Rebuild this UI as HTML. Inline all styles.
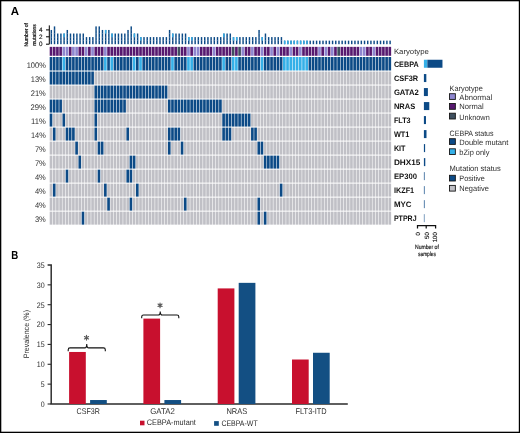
<!DOCTYPE html>
<html><head><meta charset="utf-8"><title>Figure</title>
<style>
html,body{margin:0;padding:0;background:#fff;}
body{width:520px;height:433px;overflow:hidden;position:relative;font-family:"Liberation Sans",sans-serif;}
svg{position:absolute;left:0;top:0;will-change:transform;}
svg text{font-family:"Liberation Sans",sans-serif;text-rendering:geometricPrecision;}
</style></head><body>
<svg width="520" height="433" viewBox="0 0 520 433">
<rect x="0" y="0" width="520" height="433" fill="#fff"/>
<text x="10.8" y="14.8" font-size="11.6" fill="#000" font-weight="bold" textLength="8.3" lengthAdjust="spacingAndGlyphs">A</text>
<rect x="50.6" y="29.96" width="1.45" height="14.24" fill="#0c4a86"/>
<rect x="50.6" y="40.46" width="1.45" height="0.4" fill="#7fa2c6"/>
<rect x="50.6" y="36.9" width="1.45" height="0.4" fill="#7fa2c6"/>
<rect x="50.6" y="33.34" width="1.45" height="0.4" fill="#7fa2c6"/>
<rect x="53.79" y="26.4" width="1.45" height="17.8" fill="#0c4a86"/>
<rect x="53.79" y="40.46" width="1.45" height="0.4" fill="#7fa2c6"/>
<rect x="53.79" y="36.9" width="1.45" height="0.4" fill="#7fa2c6"/>
<rect x="53.79" y="33.34" width="1.45" height="0.4" fill="#7fa2c6"/>
<rect x="53.79" y="29.78" width="1.45" height="0.4" fill="#7fa2c6"/>
<rect x="56.99" y="33.52" width="1.45" height="10.68" fill="#0c4a86"/>
<rect x="56.99" y="40.46" width="1.45" height="0.4" fill="#7fa2c6"/>
<rect x="56.99" y="36.9" width="1.45" height="0.4" fill="#7fa2c6"/>
<rect x="60.19" y="33.52" width="1.45" height="10.68" fill="#0c4a86"/>
<rect x="60.19" y="40.46" width="1.45" height="0.4" fill="#7fa2c6"/>
<rect x="60.19" y="36.9" width="1.45" height="0.4" fill="#7fa2c6"/>
<rect x="63.38" y="33.52" width="1.45" height="10.68" fill="#0c4a86"/>
<rect x="63.38" y="33.52" width="1.45" height="3.56" fill="#35b0e8"/>
<rect x="63.38" y="40.46" width="1.45" height="0.4" fill="#7fa2c6"/>
<rect x="63.38" y="36.9" width="1.45" height="0.4" fill="#7fa2c6"/>
<rect x="66.58" y="29.96" width="1.45" height="14.24" fill="#0c4a86"/>
<rect x="66.58" y="40.46" width="1.45" height="0.4" fill="#7fa2c6"/>
<rect x="66.58" y="36.9" width="1.45" height="0.4" fill="#7fa2c6"/>
<rect x="66.58" y="33.34" width="1.45" height="0.4" fill="#7fa2c6"/>
<rect x="69.77" y="33.52" width="1.45" height="10.68" fill="#0c4a86"/>
<rect x="69.77" y="40.46" width="1.45" height="0.4" fill="#7fa2c6"/>
<rect x="69.77" y="36.9" width="1.45" height="0.4" fill="#7fa2c6"/>
<rect x="72.97" y="33.52" width="1.45" height="10.68" fill="#0c4a86"/>
<rect x="72.97" y="40.46" width="1.45" height="0.4" fill="#7fa2c6"/>
<rect x="72.97" y="36.9" width="1.45" height="0.4" fill="#7fa2c6"/>
<rect x="76.17" y="33.52" width="1.45" height="10.68" fill="#0c4a86"/>
<rect x="76.17" y="40.46" width="1.45" height="0.4" fill="#7fa2c6"/>
<rect x="76.17" y="36.9" width="1.45" height="0.4" fill="#7fa2c6"/>
<rect x="79.36" y="33.52" width="1.45" height="10.68" fill="#0c4a86"/>
<rect x="79.36" y="40.46" width="1.45" height="0.4" fill="#7fa2c6"/>
<rect x="79.36" y="36.9" width="1.45" height="0.4" fill="#7fa2c6"/>
<rect x="82.56" y="33.52" width="1.45" height="10.68" fill="#0c4a86"/>
<rect x="82.56" y="40.46" width="1.45" height="0.4" fill="#7fa2c6"/>
<rect x="82.56" y="36.9" width="1.45" height="0.4" fill="#7fa2c6"/>
<rect x="85.75" y="37.08" width="1.45" height="7.12" fill="#0c4a86"/>
<rect x="85.75" y="40.46" width="1.45" height="0.4" fill="#7fa2c6"/>
<rect x="88.95" y="37.08" width="1.45" height="7.12" fill="#0c4a86"/>
<rect x="88.95" y="40.46" width="1.45" height="0.4" fill="#7fa2c6"/>
<rect x="92.15" y="37.08" width="1.45" height="7.12" fill="#0c4a86"/>
<rect x="92.15" y="40.46" width="1.45" height="0.4" fill="#7fa2c6"/>
<rect x="95.34" y="26.4" width="1.45" height="17.8" fill="#0c4a86"/>
<rect x="95.34" y="40.46" width="1.45" height="0.4" fill="#7fa2c6"/>
<rect x="95.34" y="36.9" width="1.45" height="0.4" fill="#7fa2c6"/>
<rect x="95.34" y="33.34" width="1.45" height="0.4" fill="#7fa2c6"/>
<rect x="95.34" y="29.78" width="1.45" height="0.4" fill="#7fa2c6"/>
<rect x="98.54" y="26.4" width="1.45" height="17.8" fill="#0c4a86"/>
<rect x="98.54" y="40.46" width="1.45" height="0.4" fill="#7fa2c6"/>
<rect x="98.54" y="36.9" width="1.45" height="0.4" fill="#7fa2c6"/>
<rect x="98.54" y="33.34" width="1.45" height="0.4" fill="#7fa2c6"/>
<rect x="98.54" y="29.78" width="1.45" height="0.4" fill="#7fa2c6"/>
<rect x="101.73" y="29.96" width="1.45" height="14.24" fill="#0c4a86"/>
<rect x="101.73" y="40.46" width="1.45" height="0.4" fill="#7fa2c6"/>
<rect x="101.73" y="36.9" width="1.45" height="0.4" fill="#7fa2c6"/>
<rect x="101.73" y="33.34" width="1.45" height="0.4" fill="#7fa2c6"/>
<rect x="104.93" y="29.96" width="1.45" height="14.24" fill="#0c4a86"/>
<rect x="104.93" y="29.96" width="1.45" height="3.56" fill="#35b0e8"/>
<rect x="104.93" y="40.46" width="1.45" height="0.4" fill="#7fa2c6"/>
<rect x="104.93" y="36.9" width="1.45" height="0.4" fill="#7fa2c6"/>
<rect x="104.93" y="33.34" width="1.45" height="0.4" fill="#7fa2c6"/>
<rect x="108.13" y="29.96" width="1.45" height="14.24" fill="#0c4a86"/>
<rect x="108.13" y="40.46" width="1.45" height="0.4" fill="#7fa2c6"/>
<rect x="108.13" y="36.9" width="1.45" height="0.4" fill="#7fa2c6"/>
<rect x="108.13" y="33.34" width="1.45" height="0.4" fill="#7fa2c6"/>
<rect x="111.32" y="33.52" width="1.45" height="10.68" fill="#0c4a86"/>
<rect x="111.32" y="33.52" width="1.45" height="3.56" fill="#35b0e8"/>
<rect x="111.32" y="40.46" width="1.45" height="0.4" fill="#7fa2c6"/>
<rect x="111.32" y="36.9" width="1.45" height="0.4" fill="#7fa2c6"/>
<rect x="114.52" y="33.52" width="1.45" height="10.68" fill="#0c4a86"/>
<rect x="114.52" y="40.46" width="1.45" height="0.4" fill="#7fa2c6"/>
<rect x="114.52" y="36.9" width="1.45" height="0.4" fill="#7fa2c6"/>
<rect x="117.71" y="33.52" width="1.45" height="10.68" fill="#0c4a86"/>
<rect x="117.71" y="40.46" width="1.45" height="0.4" fill="#7fa2c6"/>
<rect x="117.71" y="36.9" width="1.45" height="0.4" fill="#7fa2c6"/>
<rect x="120.91" y="33.52" width="1.45" height="10.68" fill="#0c4a86"/>
<rect x="120.91" y="40.46" width="1.45" height="0.4" fill="#7fa2c6"/>
<rect x="120.91" y="36.9" width="1.45" height="0.4" fill="#7fa2c6"/>
<rect x="124.11" y="33.52" width="1.45" height="10.68" fill="#0c4a86"/>
<rect x="124.11" y="40.46" width="1.45" height="0.4" fill="#7fa2c6"/>
<rect x="124.11" y="36.9" width="1.45" height="0.4" fill="#7fa2c6"/>
<rect x="127.3" y="29.96" width="1.45" height="14.24" fill="#0c4a86"/>
<rect x="127.3" y="40.46" width="1.45" height="0.4" fill="#7fa2c6"/>
<rect x="127.3" y="36.9" width="1.45" height="0.4" fill="#7fa2c6"/>
<rect x="127.3" y="33.34" width="1.45" height="0.4" fill="#7fa2c6"/>
<rect x="130.5" y="26.4" width="1.45" height="17.8" fill="#0c4a86"/>
<rect x="130.5" y="40.46" width="1.45" height="0.4" fill="#7fa2c6"/>
<rect x="130.5" y="36.9" width="1.45" height="0.4" fill="#7fa2c6"/>
<rect x="130.5" y="33.34" width="1.45" height="0.4" fill="#7fa2c6"/>
<rect x="130.5" y="29.78" width="1.45" height="0.4" fill="#7fa2c6"/>
<rect x="133.69" y="33.52" width="1.45" height="10.68" fill="#0c4a86"/>
<rect x="133.69" y="33.52" width="1.45" height="3.56" fill="#35b0e8"/>
<rect x="133.69" y="40.46" width="1.45" height="0.4" fill="#7fa2c6"/>
<rect x="133.69" y="36.9" width="1.45" height="0.4" fill="#7fa2c6"/>
<rect x="136.89" y="33.52" width="1.45" height="10.68" fill="#0c4a86"/>
<rect x="136.89" y="40.46" width="1.45" height="0.4" fill="#7fa2c6"/>
<rect x="136.89" y="36.9" width="1.45" height="0.4" fill="#7fa2c6"/>
<rect x="140.09" y="37.08" width="1.45" height="7.12" fill="#0c4a86"/>
<rect x="140.09" y="37.08" width="1.45" height="3.56" fill="#35b0e8"/>
<rect x="140.09" y="40.46" width="1.45" height="0.4" fill="#7fa2c6"/>
<rect x="143.28" y="37.08" width="1.45" height="7.12" fill="#0c4a86"/>
<rect x="143.28" y="40.46" width="1.45" height="0.4" fill="#7fa2c6"/>
<rect x="146.48" y="37.08" width="1.45" height="7.12" fill="#0c4a86"/>
<rect x="146.48" y="40.46" width="1.45" height="0.4" fill="#7fa2c6"/>
<rect x="149.67" y="37.08" width="1.45" height="7.12" fill="#0c4a86"/>
<rect x="149.67" y="40.46" width="1.45" height="0.4" fill="#7fa2c6"/>
<rect x="152.87" y="37.08" width="1.45" height="7.12" fill="#0c4a86"/>
<rect x="152.87" y="40.46" width="1.45" height="0.4" fill="#7fa2c6"/>
<rect x="156.07" y="37.08" width="1.45" height="7.12" fill="#0c4a86"/>
<rect x="156.07" y="40.46" width="1.45" height="0.4" fill="#7fa2c6"/>
<rect x="159.26" y="37.08" width="1.45" height="7.12" fill="#0c4a86"/>
<rect x="159.26" y="40.46" width="1.45" height="0.4" fill="#7fa2c6"/>
<rect x="162.46" y="37.08" width="1.45" height="7.12" fill="#0c4a86"/>
<rect x="162.46" y="40.46" width="1.45" height="0.4" fill="#7fa2c6"/>
<rect x="165.65" y="37.08" width="1.45" height="7.12" fill="#0c4a86"/>
<rect x="165.65" y="40.46" width="1.45" height="0.4" fill="#7fa2c6"/>
<rect x="168.85" y="29.96" width="1.45" height="14.24" fill="#0c4a86"/>
<rect x="168.85" y="40.46" width="1.45" height="0.4" fill="#7fa2c6"/>
<rect x="168.85" y="36.9" width="1.45" height="0.4" fill="#7fa2c6"/>
<rect x="168.85" y="33.34" width="1.45" height="0.4" fill="#7fa2c6"/>
<rect x="172.05" y="33.52" width="1.45" height="10.68" fill="#0c4a86"/>
<rect x="172.05" y="33.52" width="1.45" height="3.56" fill="#35b0e8"/>
<rect x="172.05" y="40.46" width="1.45" height="0.4" fill="#7fa2c6"/>
<rect x="172.05" y="36.9" width="1.45" height="0.4" fill="#7fa2c6"/>
<rect x="175.24" y="33.52" width="1.45" height="10.68" fill="#0c4a86"/>
<rect x="175.24" y="40.46" width="1.45" height="0.4" fill="#7fa2c6"/>
<rect x="175.24" y="36.9" width="1.45" height="0.4" fill="#7fa2c6"/>
<rect x="178.44" y="33.52" width="1.45" height="10.68" fill="#0c4a86"/>
<rect x="178.44" y="40.46" width="1.45" height="0.4" fill="#7fa2c6"/>
<rect x="178.44" y="36.9" width="1.45" height="0.4" fill="#7fa2c6"/>
<rect x="181.63" y="33.52" width="1.45" height="10.68" fill="#0c4a86"/>
<rect x="181.63" y="40.46" width="1.45" height="0.4" fill="#7fa2c6"/>
<rect x="181.63" y="36.9" width="1.45" height="0.4" fill="#7fa2c6"/>
<rect x="184.83" y="33.52" width="1.45" height="10.68" fill="#0c4a86"/>
<rect x="184.83" y="40.46" width="1.45" height="0.4" fill="#7fa2c6"/>
<rect x="184.83" y="36.9" width="1.45" height="0.4" fill="#7fa2c6"/>
<rect x="188.03" y="37.08" width="1.45" height="7.12" fill="#0c4a86"/>
<rect x="188.03" y="37.08" width="1.45" height="3.56" fill="#35b0e8"/>
<rect x="188.03" y="40.46" width="1.45" height="0.4" fill="#7fa2c6"/>
<rect x="191.22" y="37.08" width="1.45" height="7.12" fill="#0c4a86"/>
<rect x="191.22" y="37.08" width="1.45" height="3.56" fill="#35b0e8"/>
<rect x="191.22" y="40.46" width="1.45" height="0.4" fill="#7fa2c6"/>
<rect x="194.42" y="37.08" width="1.45" height="7.12" fill="#0c4a86"/>
<rect x="194.42" y="40.46" width="1.45" height="0.4" fill="#7fa2c6"/>
<rect x="197.61" y="37.08" width="1.45" height="7.12" fill="#0c4a86"/>
<rect x="197.61" y="40.46" width="1.45" height="0.4" fill="#7fa2c6"/>
<rect x="200.81" y="37.08" width="1.45" height="7.12" fill="#0c4a86"/>
<rect x="200.81" y="40.46" width="1.45" height="0.4" fill="#7fa2c6"/>
<rect x="204.01" y="37.08" width="1.45" height="7.12" fill="#0c4a86"/>
<rect x="204.01" y="40.46" width="1.45" height="0.4" fill="#7fa2c6"/>
<rect x="207.2" y="37.08" width="1.45" height="7.12" fill="#0c4a86"/>
<rect x="207.2" y="40.46" width="1.45" height="0.4" fill="#7fa2c6"/>
<rect x="210.4" y="37.08" width="1.45" height="7.12" fill="#0c4a86"/>
<rect x="210.4" y="40.46" width="1.45" height="0.4" fill="#7fa2c6"/>
<rect x="213.59" y="37.08" width="1.45" height="7.12" fill="#0c4a86"/>
<rect x="213.59" y="40.46" width="1.45" height="0.4" fill="#7fa2c6"/>
<rect x="216.79" y="37.08" width="1.45" height="7.12" fill="#0c4a86"/>
<rect x="216.79" y="40.46" width="1.45" height="0.4" fill="#7fa2c6"/>
<rect x="219.99" y="37.08" width="1.45" height="7.12" fill="#0c4a86"/>
<rect x="219.99" y="40.46" width="1.45" height="0.4" fill="#7fa2c6"/>
<rect x="223.18" y="33.52" width="1.45" height="10.68" fill="#0c4a86"/>
<rect x="223.18" y="33.52" width="1.45" height="3.56" fill="#35b0e8"/>
<rect x="223.18" y="40.46" width="1.45" height="0.4" fill="#7fa2c6"/>
<rect x="223.18" y="36.9" width="1.45" height="0.4" fill="#7fa2c6"/>
<rect x="226.38" y="33.52" width="1.45" height="10.68" fill="#0c4a86"/>
<rect x="226.38" y="40.46" width="1.45" height="0.4" fill="#7fa2c6"/>
<rect x="226.38" y="36.9" width="1.45" height="0.4" fill="#7fa2c6"/>
<rect x="229.57" y="33.52" width="1.45" height="10.68" fill="#0c4a86"/>
<rect x="229.57" y="40.46" width="1.45" height="0.4" fill="#7fa2c6"/>
<rect x="229.57" y="36.9" width="1.45" height="0.4" fill="#7fa2c6"/>
<rect x="232.77" y="37.08" width="1.45" height="7.12" fill="#0c4a86"/>
<rect x="232.77" y="37.08" width="1.45" height="3.56" fill="#35b0e8"/>
<rect x="232.77" y="40.46" width="1.45" height="0.4" fill="#7fa2c6"/>
<rect x="235.97" y="37.08" width="1.45" height="7.12" fill="#0c4a86"/>
<rect x="235.97" y="37.08" width="1.45" height="3.56" fill="#35b0e8"/>
<rect x="235.97" y="40.46" width="1.45" height="0.4" fill="#7fa2c6"/>
<rect x="239.16" y="37.08" width="1.45" height="7.12" fill="#0c4a86"/>
<rect x="239.16" y="40.46" width="1.45" height="0.4" fill="#7fa2c6"/>
<rect x="242.36" y="37.08" width="1.45" height="7.12" fill="#0c4a86"/>
<rect x="242.36" y="40.46" width="1.45" height="0.4" fill="#7fa2c6"/>
<rect x="245.55" y="37.08" width="1.45" height="7.12" fill="#0c4a86"/>
<rect x="245.55" y="40.46" width="1.45" height="0.4" fill="#7fa2c6"/>
<rect x="248.75" y="37.08" width="1.45" height="7.12" fill="#0c4a86"/>
<rect x="248.75" y="40.46" width="1.45" height="0.4" fill="#7fa2c6"/>
<rect x="251.95" y="37.08" width="1.45" height="7.12" fill="#0c4a86"/>
<rect x="251.95" y="40.46" width="1.45" height="0.4" fill="#7fa2c6"/>
<rect x="255.14" y="37.08" width="1.45" height="7.12" fill="#0c4a86"/>
<rect x="255.14" y="40.46" width="1.45" height="0.4" fill="#7fa2c6"/>
<rect x="258.34" y="29.96" width="1.45" height="14.24" fill="#0c4a86"/>
<rect x="258.34" y="40.46" width="1.45" height="0.4" fill="#7fa2c6"/>
<rect x="258.34" y="36.9" width="1.45" height="0.4" fill="#7fa2c6"/>
<rect x="258.34" y="33.34" width="1.45" height="0.4" fill="#7fa2c6"/>
<rect x="261.53" y="37.08" width="1.45" height="7.12" fill="#0c4a86"/>
<rect x="261.53" y="37.08" width="1.45" height="3.56" fill="#35b0e8"/>
<rect x="261.53" y="40.46" width="1.45" height="0.4" fill="#7fa2c6"/>
<rect x="264.73" y="33.52" width="1.45" height="10.68" fill="#0c4a86"/>
<rect x="264.73" y="40.46" width="1.45" height="0.4" fill="#7fa2c6"/>
<rect x="264.73" y="36.9" width="1.45" height="0.4" fill="#7fa2c6"/>
<rect x="267.93" y="37.08" width="1.45" height="7.12" fill="#0c4a86"/>
<rect x="267.93" y="40.46" width="1.45" height="0.4" fill="#7fa2c6"/>
<rect x="271.12" y="37.08" width="1.45" height="7.12" fill="#0c4a86"/>
<rect x="271.12" y="40.46" width="1.45" height="0.4" fill="#7fa2c6"/>
<rect x="274.32" y="37.08" width="1.45" height="7.12" fill="#0c4a86"/>
<rect x="274.32" y="40.46" width="1.45" height="0.4" fill="#7fa2c6"/>
<rect x="277.51" y="37.08" width="1.45" height="7.12" fill="#0c4a86"/>
<rect x="277.51" y="40.46" width="1.45" height="0.4" fill="#7fa2c6"/>
<rect x="280.71" y="37.08" width="1.45" height="7.12" fill="#0c4a86"/>
<rect x="280.71" y="40.46" width="1.45" height="0.4" fill="#7fa2c6"/>
<rect x="283.91" y="40.64" width="1.45" height="3.56" fill="#0c4a86"/>
<rect x="283.91" y="40.64" width="1.45" height="3.56" fill="#35b0e8"/>
<rect x="287.1" y="40.64" width="1.45" height="3.56" fill="#0c4a86"/>
<rect x="287.1" y="40.64" width="1.45" height="3.56" fill="#35b0e8"/>
<rect x="290.3" y="40.64" width="1.45" height="3.56" fill="#0c4a86"/>
<rect x="290.3" y="40.64" width="1.45" height="3.56" fill="#35b0e8"/>
<rect x="293.49" y="40.64" width="1.45" height="3.56" fill="#0c4a86"/>
<rect x="293.49" y="40.64" width="1.45" height="3.56" fill="#35b0e8"/>
<rect x="296.69" y="40.64" width="1.45" height="3.56" fill="#0c4a86"/>
<rect x="296.69" y="40.64" width="1.45" height="3.56" fill="#35b0e8"/>
<rect x="299.89" y="40.64" width="1.45" height="3.56" fill="#0c4a86"/>
<rect x="299.89" y="40.64" width="1.45" height="3.56" fill="#35b0e8"/>
<rect x="303.08" y="40.64" width="1.45" height="3.56" fill="#0c4a86"/>
<rect x="303.08" y="40.64" width="1.45" height="3.56" fill="#35b0e8"/>
<rect x="306.28" y="40.64" width="1.45" height="3.56" fill="#0c4a86"/>
<rect x="306.28" y="40.64" width="1.45" height="3.56" fill="#35b0e8"/>
<rect x="309.47" y="40.64" width="1.45" height="3.56" fill="#0c4a86"/>
<rect x="312.67" y="40.64" width="1.45" height="3.56" fill="#0c4a86"/>
<rect x="315.87" y="40.64" width="1.45" height="3.56" fill="#0c4a86"/>
<rect x="319.06" y="40.64" width="1.45" height="3.56" fill="#0c4a86"/>
<rect x="322.26" y="40.64" width="1.45" height="3.56" fill="#0c4a86"/>
<rect x="325.45" y="40.64" width="1.45" height="3.56" fill="#0c4a86"/>
<rect x="328.65" y="40.64" width="1.45" height="3.56" fill="#0c4a86"/>
<rect x="331.85" y="40.64" width="1.45" height="3.56" fill="#0c4a86"/>
<rect x="335.04" y="40.64" width="1.45" height="3.56" fill="#0c4a86"/>
<rect x="338.24" y="40.64" width="1.45" height="3.56" fill="#0c4a86"/>
<rect x="341.43" y="40.64" width="1.45" height="3.56" fill="#0c4a86"/>
<rect x="344.63" y="40.64" width="1.45" height="3.56" fill="#0c4a86"/>
<rect x="347.83" y="40.64" width="1.45" height="3.56" fill="#0c4a86"/>
<rect x="351.02" y="40.64" width="1.45" height="3.56" fill="#0c4a86"/>
<rect x="354.22" y="40.64" width="1.45" height="3.56" fill="#0c4a86"/>
<rect x="357.41" y="40.64" width="1.45" height="3.56" fill="#0c4a86"/>
<rect x="360.61" y="40.64" width="1.45" height="3.56" fill="#0c4a86"/>
<rect x="363.81" y="40.64" width="1.45" height="3.56" fill="#0c4a86"/>
<rect x="367" y="40.64" width="1.45" height="3.56" fill="#0c4a86"/>
<rect x="370.2" y="40.64" width="1.45" height="3.56" fill="#0c4a86"/>
<rect x="373.39" y="40.64" width="1.45" height="3.56" fill="#0c4a86"/>
<rect x="376.59" y="40.64" width="1.45" height="3.56" fill="#0c4a86"/>
<rect x="379.79" y="40.64" width="1.45" height="3.56" fill="#0c4a86"/>
<rect x="382.98" y="40.64" width="1.45" height="3.56" fill="#0c4a86"/>
<rect x="386.18" y="40.64" width="1.45" height="3.56" fill="#0c4a86"/>
<rect x="389.37" y="40.64" width="1.45" height="3.56" fill="#0c4a86"/>
<path d="M46.0 44.2H49.3V25.4M46.0 36.8H49.3M46.0 29.9H49.3" fill="none" stroke="#000" stroke-width="1.0"/>
<text x="40.65" y="31.9" font-size="6.3" fill="#111" stroke="#111" stroke-width="0.15" text-anchor="middle">4</text>
<text x="40.65" y="38.6" font-size="6.3" fill="#111" stroke="#111" stroke-width="0.15" text-anchor="middle">2</text>
<text x="40.65" y="45.7" font-size="6.3" fill="#111" stroke="#111" stroke-width="0.15" text-anchor="middle">0</text>
<text transform="translate(28.4 46.6) rotate(-90)" font-size="5.3" fill="#111" stroke="#111" stroke-width="0.22" textLength="23.6" lengthAdjust="spacingAndGlyphs">Number of</text>
<text transform="translate(35.8 45.8) rotate(-90)" font-size="5.3" fill="#111" stroke="#111" stroke-width="0.22" textLength="21.6" lengthAdjust="spacingAndGlyphs">mutations</text>
<rect x="49.7" y="46.85" width="2.65" height="8.95" fill="#57196f"/>
<rect x="52.9" y="46.85" width="2.65" height="8.95" fill="#57196f"/>
<rect x="56.09" y="46.85" width="2.65" height="8.95" fill="#57196f"/>
<rect x="59.29" y="46.85" width="2.65" height="8.95" fill="#57196f"/>
<rect x="62.48" y="46.85" width="2.65" height="8.95" fill="#8e86cf"/>
<rect x="65.68" y="46.85" width="2.65" height="8.95" fill="#8e86cf"/>
<rect x="68.88" y="46.85" width="2.65" height="8.95" fill="#57196f"/>
<rect x="72.07" y="46.85" width="2.65" height="8.95" fill="#8e86cf"/>
<rect x="75.27" y="46.85" width="2.65" height="8.95" fill="#8e86cf"/>
<rect x="78.46" y="46.85" width="2.65" height="8.95" fill="#57196f"/>
<rect x="81.66" y="46.85" width="2.65" height="8.95" fill="#57196f"/>
<rect x="84.86" y="46.85" width="2.65" height="8.95" fill="#8e86cf"/>
<rect x="88.05" y="46.85" width="2.65" height="8.95" fill="#57196f"/>
<rect x="91.25" y="46.85" width="2.65" height="8.95" fill="#8e86cf"/>
<rect x="94.44" y="46.85" width="2.65" height="8.95" fill="#57196f"/>
<rect x="97.64" y="46.85" width="2.65" height="8.95" fill="#57196f"/>
<rect x="100.84" y="46.85" width="2.65" height="8.95" fill="#57196f"/>
<rect x="104.03" y="46.85" width="2.65" height="8.95" fill="#8e86cf"/>
<rect x="107.23" y="46.85" width="2.65" height="8.95" fill="#57196f"/>
<rect x="110.42" y="46.85" width="2.65" height="8.95" fill="#57196f"/>
<rect x="113.62" y="46.85" width="2.65" height="8.95" fill="#57196f"/>
<rect x="116.82" y="46.85" width="2.65" height="8.95" fill="#57196f"/>
<rect x="120.01" y="46.85" width="2.65" height="8.95" fill="#57196f"/>
<rect x="123.21" y="46.85" width="2.65" height="8.95" fill="#57196f"/>
<rect x="126.4" y="46.85" width="2.65" height="8.95" fill="#57196f"/>
<rect x="129.6" y="46.85" width="2.65" height="8.95" fill="#57196f"/>
<rect x="132.8" y="46.85" width="2.65" height="8.95" fill="#57196f"/>
<rect x="135.99" y="46.85" width="2.65" height="8.95" fill="#57196f"/>
<rect x="139.19" y="46.85" width="2.65" height="8.95" fill="#57196f"/>
<rect x="142.38" y="46.85" width="2.65" height="8.95" fill="#57196f"/>
<rect x="145.58" y="46.85" width="2.65" height="8.95" fill="#57196f"/>
<rect x="148.78" y="46.85" width="2.65" height="8.95" fill="#57196f"/>
<rect x="151.97" y="46.85" width="2.65" height="8.95" fill="#57196f"/>
<rect x="155.17" y="46.85" width="2.65" height="8.95" fill="#57196f"/>
<rect x="158.36" y="46.85" width="2.65" height="8.95" fill="#57196f"/>
<rect x="161.56" y="46.85" width="2.65" height="8.95" fill="#57196f"/>
<rect x="164.76" y="46.85" width="2.65" height="8.95" fill="#57196f"/>
<rect x="167.95" y="46.85" width="2.65" height="8.95" fill="#57196f"/>
<rect x="171.15" y="46.85" width="2.65" height="8.95" fill="#57196f"/>
<rect x="174.34" y="46.85" width="2.65" height="8.95" fill="#57196f"/>
<rect x="177.54" y="46.85" width="2.65" height="8.95" fill="#3e4f5e"/>
<rect x="180.74" y="46.85" width="2.65" height="8.95" fill="#57196f"/>
<rect x="183.93" y="46.85" width="2.65" height="8.95" fill="#57196f"/>
<rect x="187.13" y="46.85" width="2.65" height="8.95" fill="#8e86cf"/>
<rect x="190.32" y="46.85" width="2.65" height="8.95" fill="#57196f"/>
<rect x="193.52" y="46.85" width="2.65" height="8.95" fill="#8e86cf"/>
<rect x="196.72" y="46.85" width="2.65" height="8.95" fill="#8e86cf"/>
<rect x="199.91" y="46.85" width="2.65" height="8.95" fill="#57196f"/>
<rect x="203.11" y="46.85" width="2.65" height="8.95" fill="#57196f"/>
<rect x="206.3" y="46.85" width="2.65" height="8.95" fill="#57196f"/>
<rect x="209.5" y="46.85" width="2.65" height="8.95" fill="#57196f"/>
<rect x="212.7" y="46.85" width="2.65" height="8.95" fill="#8e86cf"/>
<rect x="215.89" y="46.85" width="2.65" height="8.95" fill="#57196f"/>
<rect x="219.09" y="46.85" width="2.65" height="8.95" fill="#57196f"/>
<rect x="222.28" y="46.85" width="2.65" height="8.95" fill="#57196f"/>
<rect x="225.48" y="46.85" width="2.65" height="8.95" fill="#57196f"/>
<rect x="228.68" y="46.85" width="2.65" height="8.95" fill="#57196f"/>
<rect x="231.87" y="46.85" width="2.65" height="8.95" fill="#3e4f5e"/>
<rect x="235.07" y="46.85" width="2.65" height="8.95" fill="#57196f"/>
<rect x="238.26" y="46.85" width="2.65" height="8.95" fill="#3e4f5e"/>
<rect x="241.46" y="46.85" width="2.65" height="8.95" fill="#8e86cf"/>
<rect x="244.66" y="46.85" width="2.65" height="8.95" fill="#57196f"/>
<rect x="247.85" y="46.85" width="2.65" height="8.95" fill="#57196f"/>
<rect x="251.05" y="46.85" width="2.65" height="8.95" fill="#8e86cf"/>
<rect x="254.24" y="46.85" width="2.65" height="8.95" fill="#57196f"/>
<rect x="257.44" y="46.85" width="2.65" height="8.95" fill="#57196f"/>
<rect x="260.64" y="46.85" width="2.65" height="8.95" fill="#8e86cf"/>
<rect x="263.83" y="46.85" width="2.65" height="8.95" fill="#57196f"/>
<rect x="267.03" y="46.85" width="2.65" height="8.95" fill="#57196f"/>
<rect x="270.22" y="46.85" width="2.65" height="8.95" fill="#8e86cf"/>
<rect x="273.42" y="46.85" width="2.65" height="8.95" fill="#57196f"/>
<rect x="276.62" y="46.85" width="2.65" height="8.95" fill="#8e86cf"/>
<rect x="279.81" y="46.85" width="2.65" height="8.95" fill="#57196f"/>
<rect x="283.01" y="46.85" width="2.65" height="8.95" fill="#57196f"/>
<rect x="286.2" y="46.85" width="2.65" height="8.95" fill="#57196f"/>
<rect x="289.4" y="46.85" width="2.65" height="8.95" fill="#8e86cf"/>
<rect x="292.6" y="46.85" width="2.65" height="8.95" fill="#57196f"/>
<rect x="295.79" y="46.85" width="2.65" height="8.95" fill="#57196f"/>
<rect x="298.99" y="46.85" width="2.65" height="8.95" fill="#8e86cf"/>
<rect x="302.18" y="46.85" width="2.65" height="8.95" fill="#57196f"/>
<rect x="305.38" y="46.85" width="2.65" height="8.95" fill="#57196f"/>
<rect x="308.58" y="46.85" width="2.65" height="8.95" fill="#57196f"/>
<rect x="311.77" y="46.85" width="2.65" height="8.95" fill="#57196f"/>
<rect x="314.97" y="46.85" width="2.65" height="8.95" fill="#57196f"/>
<rect x="318.16" y="46.85" width="2.65" height="8.95" fill="#8e86cf"/>
<rect x="321.36" y="46.85" width="2.65" height="8.95" fill="#57196f"/>
<rect x="324.56" y="46.85" width="2.65" height="8.95" fill="#8e86cf"/>
<rect x="327.75" y="46.85" width="2.65" height="8.95" fill="#57196f"/>
<rect x="330.95" y="46.85" width="2.65" height="8.95" fill="#8e86cf"/>
<rect x="334.14" y="46.85" width="2.65" height="8.95" fill="#57196f"/>
<rect x="337.34" y="46.85" width="2.65" height="8.95" fill="#3e4f5e"/>
<rect x="340.54" y="46.85" width="2.65" height="8.95" fill="#57196f"/>
<rect x="343.73" y="46.85" width="2.65" height="8.95" fill="#57196f"/>
<rect x="346.93" y="46.85" width="2.65" height="8.95" fill="#57196f"/>
<rect x="350.12" y="46.85" width="2.65" height="8.95" fill="#57196f"/>
<rect x="353.32" y="46.85" width="2.65" height="8.95" fill="#57196f"/>
<rect x="356.52" y="46.85" width="2.65" height="8.95" fill="#57196f"/>
<rect x="359.71" y="46.85" width="2.65" height="8.95" fill="#8e86cf"/>
<rect x="362.91" y="46.85" width="2.65" height="8.95" fill="#8e86cf"/>
<rect x="366.1" y="46.85" width="2.65" height="8.95" fill="#57196f"/>
<rect x="369.3" y="46.85" width="2.65" height="8.95" fill="#57196f"/>
<rect x="372.5" y="46.85" width="2.65" height="8.95" fill="#8e86cf"/>
<rect x="375.69" y="46.85" width="2.65" height="8.95" fill="#57196f"/>
<rect x="378.89" y="46.85" width="2.65" height="8.95" fill="#57196f"/>
<rect x="382.08" y="46.85" width="2.65" height="8.95" fill="#57196f"/>
<rect x="385.28" y="46.85" width="2.65" height="8.95" fill="#57196f"/>
<rect x="388.48" y="46.85" width="2.65" height="8.95" fill="#57196f"/>
<text x="393.9" y="54.3" font-size="7.5" fill="#2e2e2e" textLength="35" lengthAdjust="spacingAndGlyphs">Karyotype</text>
<rect x="49.7" y="57" width="2.65" height="13.5" fill="#0c4a86"/>
<rect x="52.9" y="57" width="2.65" height="13.5" fill="#0c4a86"/>
<rect x="56.09" y="57" width="2.65" height="13.5" fill="#0c4a86"/>
<rect x="59.29" y="57" width="2.65" height="13.5" fill="#0c4a86"/>
<rect x="62.48" y="57" width="2.65" height="13.5" fill="#35b0e8"/>
<rect x="65.68" y="57" width="2.65" height="13.5" fill="#0c4a86"/>
<rect x="68.88" y="57" width="2.65" height="13.5" fill="#0c4a86"/>
<rect x="72.07" y="57" width="2.65" height="13.5" fill="#0c4a86"/>
<rect x="75.27" y="57" width="2.65" height="13.5" fill="#0c4a86"/>
<rect x="78.46" y="57" width="2.65" height="13.5" fill="#0c4a86"/>
<rect x="81.66" y="57" width="2.65" height="13.5" fill="#0c4a86"/>
<rect x="84.86" y="57" width="2.65" height="13.5" fill="#0c4a86"/>
<rect x="88.05" y="57" width="2.65" height="13.5" fill="#0c4a86"/>
<rect x="91.25" y="57" width="2.65" height="13.5" fill="#0c4a86"/>
<rect x="94.44" y="57" width="2.65" height="13.5" fill="#0c4a86"/>
<rect x="97.64" y="57" width="2.65" height="13.5" fill="#0c4a86"/>
<rect x="100.84" y="57" width="2.65" height="13.5" fill="#0c4a86"/>
<rect x="104.03" y="57" width="2.65" height="13.5" fill="#35b0e8"/>
<rect x="107.23" y="57" width="2.65" height="13.5" fill="#0c4a86"/>
<rect x="110.42" y="57" width="2.65" height="13.5" fill="#35b0e8"/>
<rect x="113.62" y="57" width="2.65" height="13.5" fill="#0c4a86"/>
<rect x="116.82" y="57" width="2.65" height="13.5" fill="#0c4a86"/>
<rect x="120.01" y="57" width="2.65" height="13.5" fill="#0c4a86"/>
<rect x="123.21" y="57" width="2.65" height="13.5" fill="#0c4a86"/>
<rect x="126.4" y="57" width="2.65" height="13.5" fill="#0c4a86"/>
<rect x="129.6" y="57" width="2.65" height="13.5" fill="#0c4a86"/>
<rect x="132.8" y="57" width="2.65" height="13.5" fill="#35b0e8"/>
<rect x="135.99" y="57" width="2.65" height="13.5" fill="#0c4a86"/>
<rect x="139.19" y="57" width="2.65" height="13.5" fill="#35b0e8"/>
<rect x="142.38" y="57" width="2.65" height="13.5" fill="#0c4a86"/>
<rect x="145.58" y="57" width="2.65" height="13.5" fill="#0c4a86"/>
<rect x="148.78" y="57" width="2.65" height="13.5" fill="#0c4a86"/>
<rect x="151.97" y="57" width="2.65" height="13.5" fill="#0c4a86"/>
<rect x="155.17" y="57" width="2.65" height="13.5" fill="#0c4a86"/>
<rect x="158.36" y="57" width="2.65" height="13.5" fill="#0c4a86"/>
<rect x="161.56" y="57" width="2.65" height="13.5" fill="#0c4a86"/>
<rect x="164.76" y="57" width="2.65" height="13.5" fill="#0c4a86"/>
<rect x="167.95" y="57" width="2.65" height="13.5" fill="#0c4a86"/>
<rect x="171.15" y="57" width="2.65" height="13.5" fill="#35b0e8"/>
<rect x="174.34" y="57" width="2.65" height="13.5" fill="#0c4a86"/>
<rect x="177.54" y="57" width="2.65" height="13.5" fill="#0c4a86"/>
<rect x="180.74" y="57" width="2.65" height="13.5" fill="#0c4a86"/>
<rect x="183.93" y="57" width="2.65" height="13.5" fill="#0c4a86"/>
<rect x="187.13" y="57" width="2.65" height="13.5" fill="#35b0e8"/>
<rect x="190.32" y="57" width="2.65" height="13.5" fill="#35b0e8"/>
<rect x="193.52" y="57" width="2.65" height="13.5" fill="#0c4a86"/>
<rect x="196.72" y="57" width="2.65" height="13.5" fill="#0c4a86"/>
<rect x="199.91" y="57" width="2.65" height="13.5" fill="#0c4a86"/>
<rect x="203.11" y="57" width="2.65" height="13.5" fill="#0c4a86"/>
<rect x="206.3" y="57" width="2.65" height="13.5" fill="#0c4a86"/>
<rect x="209.5" y="57" width="2.65" height="13.5" fill="#0c4a86"/>
<rect x="212.7" y="57" width="2.65" height="13.5" fill="#0c4a86"/>
<rect x="215.89" y="57" width="2.65" height="13.5" fill="#0c4a86"/>
<rect x="219.09" y="57" width="2.65" height="13.5" fill="#0c4a86"/>
<rect x="222.28" y="57" width="2.65" height="13.5" fill="#35b0e8"/>
<rect x="225.48" y="57" width="2.65" height="13.5" fill="#0c4a86"/>
<rect x="228.68" y="57" width="2.65" height="13.5" fill="#0c4a86"/>
<rect x="231.87" y="57" width="2.65" height="13.5" fill="#35b0e8"/>
<rect x="235.07" y="57" width="2.65" height="13.5" fill="#35b0e8"/>
<rect x="238.26" y="57" width="2.65" height="13.5" fill="#0c4a86"/>
<rect x="241.46" y="57" width="2.65" height="13.5" fill="#0c4a86"/>
<rect x="244.66" y="57" width="2.65" height="13.5" fill="#0c4a86"/>
<rect x="247.85" y="57" width="2.65" height="13.5" fill="#0c4a86"/>
<rect x="251.05" y="57" width="2.65" height="13.5" fill="#0c4a86"/>
<rect x="254.24" y="57" width="2.65" height="13.5" fill="#0c4a86"/>
<rect x="257.44" y="57" width="2.65" height="13.5" fill="#0c4a86"/>
<rect x="260.64" y="57" width="2.65" height="13.5" fill="#35b0e8"/>
<rect x="263.83" y="57" width="2.65" height="13.5" fill="#0c4a86"/>
<rect x="267.03" y="57" width="2.65" height="13.5" fill="#0c4a86"/>
<rect x="270.22" y="57" width="2.65" height="13.5" fill="#0c4a86"/>
<rect x="273.42" y="57" width="2.65" height="13.5" fill="#0c4a86"/>
<rect x="276.62" y="57" width="2.65" height="13.5" fill="#0c4a86"/>
<rect x="279.81" y="57" width="2.65" height="13.5" fill="#0c4a86"/>
<rect x="283.01" y="57" width="2.65" height="13.5" fill="#35b0e8"/>
<rect x="286.2" y="57" width="2.65" height="13.5" fill="#35b0e8"/>
<rect x="289.4" y="57" width="2.65" height="13.5" fill="#35b0e8"/>
<rect x="292.6" y="57" width="2.65" height="13.5" fill="#35b0e8"/>
<rect x="295.79" y="57" width="2.65" height="13.5" fill="#35b0e8"/>
<rect x="298.99" y="57" width="2.65" height="13.5" fill="#35b0e8"/>
<rect x="302.18" y="57" width="2.65" height="13.5" fill="#35b0e8"/>
<rect x="305.38" y="57" width="2.65" height="13.5" fill="#35b0e8"/>
<rect x="308.58" y="57" width="2.65" height="13.5" fill="#0c4a86"/>
<rect x="311.77" y="57" width="2.65" height="13.5" fill="#0c4a86"/>
<rect x="314.97" y="57" width="2.65" height="13.5" fill="#0c4a86"/>
<rect x="318.16" y="57" width="2.65" height="13.5" fill="#0c4a86"/>
<rect x="321.36" y="57" width="2.65" height="13.5" fill="#0c4a86"/>
<rect x="324.56" y="57" width="2.65" height="13.5" fill="#0c4a86"/>
<rect x="327.75" y="57" width="2.65" height="13.5" fill="#0c4a86"/>
<rect x="330.95" y="57" width="2.65" height="13.5" fill="#0c4a86"/>
<rect x="334.14" y="57" width="2.65" height="13.5" fill="#0c4a86"/>
<rect x="337.34" y="57" width="2.65" height="13.5" fill="#0c4a86"/>
<rect x="340.54" y="57" width="2.65" height="13.5" fill="#0c4a86"/>
<rect x="343.73" y="57" width="2.65" height="13.5" fill="#0c4a86"/>
<rect x="346.93" y="57" width="2.65" height="13.5" fill="#0c4a86"/>
<rect x="350.12" y="57" width="2.65" height="13.5" fill="#0c4a86"/>
<rect x="353.32" y="57" width="2.65" height="13.5" fill="#0c4a86"/>
<rect x="356.52" y="57" width="2.65" height="13.5" fill="#0c4a86"/>
<rect x="359.71" y="57" width="2.65" height="13.5" fill="#0c4a86"/>
<rect x="362.91" y="57" width="2.65" height="13.5" fill="#0c4a86"/>
<rect x="366.1" y="57" width="2.65" height="13.5" fill="#0c4a86"/>
<rect x="369.3" y="57" width="2.65" height="13.5" fill="#0c4a86"/>
<rect x="372.5" y="57" width="2.65" height="13.5" fill="#0c4a86"/>
<rect x="375.69" y="57" width="2.65" height="13.5" fill="#0c4a86"/>
<rect x="378.89" y="57" width="2.65" height="13.5" fill="#0c4a86"/>
<rect x="382.08" y="57" width="2.65" height="13.5" fill="#0c4a86"/>
<rect x="385.28" y="57" width="2.65" height="13.5" fill="#0c4a86"/>
<rect x="388.48" y="57" width="2.65" height="13.5" fill="#0c4a86"/>
<text x="26.7" y="67.9" font-size="8.1" fill="#2e2e2e" textLength="19.1" lengthAdjust="spacingAndGlyphs">100%</text>
<text x="393.9" y="66.7" font-size="7.9" fill="#111" font-weight="bold" textLength="24.8" lengthAdjust="spacingAndGlyphs">CEBPA</text>
<rect x="423.9" y="59.75" width="3.47" height="8.0" fill="#35b0e8"/>
<rect x="427.37" y="59.75" width="15.09" height="8.0" fill="#0c4a86"/>
<rect x="49.7" y="71.55" width="2.65" height="13.0" fill="#0c4a86"/>
<rect x="52.9" y="71.55" width="2.65" height="13.0" fill="#0c4a86"/>
<rect x="56.09" y="71.55" width="2.65" height="13.0" fill="#0c4a86"/>
<rect x="59.29" y="71.55" width="2.65" height="13.0" fill="#0c4a86"/>
<rect x="62.48" y="71.55" width="2.65" height="13.0" fill="#0c4a86"/>
<rect x="65.68" y="71.55" width="2.65" height="13.0" fill="#0c4a86"/>
<rect x="68.88" y="71.55" width="2.65" height="13.0" fill="#0c4a86"/>
<rect x="72.07" y="71.55" width="2.65" height="13.0" fill="#0c4a86"/>
<rect x="75.27" y="71.55" width="2.65" height="13.0" fill="#0c4a86"/>
<rect x="78.46" y="71.55" width="2.65" height="13.0" fill="#0c4a86"/>
<rect x="81.66" y="71.55" width="2.65" height="13.0" fill="#0c4a86"/>
<rect x="84.86" y="71.55" width="2.65" height="13.0" fill="#0c4a86"/>
<rect x="88.05" y="71.55" width="2.65" height="13.0" fill="#0c4a86"/>
<rect x="91.25" y="71.55" width="2.65" height="13.0" fill="#0c4a86"/>
<rect x="94.44" y="71.55" width="2.65" height="13.0" fill="#c0c0c6"/>
<rect x="97.64" y="71.55" width="2.65" height="13.0" fill="#c0c0c6"/>
<rect x="100.84" y="71.55" width="2.65" height="13.0" fill="#c0c0c6"/>
<rect x="104.03" y="71.55" width="2.65" height="13.0" fill="#c0c0c6"/>
<rect x="107.23" y="71.55" width="2.65" height="13.0" fill="#c0c0c6"/>
<rect x="110.42" y="71.55" width="2.65" height="13.0" fill="#c0c0c6"/>
<rect x="113.62" y="71.55" width="2.65" height="13.0" fill="#c0c0c6"/>
<rect x="116.82" y="71.55" width="2.65" height="13.0" fill="#c0c0c6"/>
<rect x="120.01" y="71.55" width="2.65" height="13.0" fill="#c0c0c6"/>
<rect x="123.21" y="71.55" width="2.65" height="13.0" fill="#c0c0c6"/>
<rect x="126.4" y="71.55" width="2.65" height="13.0" fill="#c0c0c6"/>
<rect x="129.6" y="71.55" width="2.65" height="13.0" fill="#c0c0c6"/>
<rect x="132.8" y="71.55" width="2.65" height="13.0" fill="#c0c0c6"/>
<rect x="135.99" y="71.55" width="2.65" height="13.0" fill="#c0c0c6"/>
<rect x="139.19" y="71.55" width="2.65" height="13.0" fill="#c0c0c6"/>
<rect x="142.38" y="71.55" width="2.65" height="13.0" fill="#c0c0c6"/>
<rect x="145.58" y="71.55" width="2.65" height="13.0" fill="#c0c0c6"/>
<rect x="148.78" y="71.55" width="2.65" height="13.0" fill="#c0c0c6"/>
<rect x="151.97" y="71.55" width="2.65" height="13.0" fill="#c0c0c6"/>
<rect x="155.17" y="71.55" width="2.65" height="13.0" fill="#c0c0c6"/>
<rect x="158.36" y="71.55" width="2.65" height="13.0" fill="#c0c0c6"/>
<rect x="161.56" y="71.55" width="2.65" height="13.0" fill="#c0c0c6"/>
<rect x="164.76" y="71.55" width="2.65" height="13.0" fill="#c0c0c6"/>
<rect x="167.95" y="71.55" width="2.65" height="13.0" fill="#c0c0c6"/>
<rect x="171.15" y="71.55" width="2.65" height="13.0" fill="#c0c0c6"/>
<rect x="174.34" y="71.55" width="2.65" height="13.0" fill="#c0c0c6"/>
<rect x="177.54" y="71.55" width="2.65" height="13.0" fill="#c0c0c6"/>
<rect x="180.74" y="71.55" width="2.65" height="13.0" fill="#c0c0c6"/>
<rect x="183.93" y="71.55" width="2.65" height="13.0" fill="#c0c0c6"/>
<rect x="187.13" y="71.55" width="2.65" height="13.0" fill="#c0c0c6"/>
<rect x="190.32" y="71.55" width="2.65" height="13.0" fill="#c0c0c6"/>
<rect x="193.52" y="71.55" width="2.65" height="13.0" fill="#c0c0c6"/>
<rect x="196.72" y="71.55" width="2.65" height="13.0" fill="#c0c0c6"/>
<rect x="199.91" y="71.55" width="2.65" height="13.0" fill="#c0c0c6"/>
<rect x="203.11" y="71.55" width="2.65" height="13.0" fill="#c0c0c6"/>
<rect x="206.3" y="71.55" width="2.65" height="13.0" fill="#c0c0c6"/>
<rect x="209.5" y="71.55" width="2.65" height="13.0" fill="#c0c0c6"/>
<rect x="212.7" y="71.55" width="2.65" height="13.0" fill="#c0c0c6"/>
<rect x="215.89" y="71.55" width="2.65" height="13.0" fill="#c0c0c6"/>
<rect x="219.09" y="71.55" width="2.65" height="13.0" fill="#c0c0c6"/>
<rect x="222.28" y="71.55" width="2.65" height="13.0" fill="#c0c0c6"/>
<rect x="225.48" y="71.55" width="2.65" height="13.0" fill="#c0c0c6"/>
<rect x="228.68" y="71.55" width="2.65" height="13.0" fill="#c0c0c6"/>
<rect x="231.87" y="71.55" width="2.65" height="13.0" fill="#c0c0c6"/>
<rect x="235.07" y="71.55" width="2.65" height="13.0" fill="#c0c0c6"/>
<rect x="238.26" y="71.55" width="2.65" height="13.0" fill="#c0c0c6"/>
<rect x="241.46" y="71.55" width="2.65" height="13.0" fill="#c0c0c6"/>
<rect x="244.66" y="71.55" width="2.65" height="13.0" fill="#c0c0c6"/>
<rect x="247.85" y="71.55" width="2.65" height="13.0" fill="#c0c0c6"/>
<rect x="251.05" y="71.55" width="2.65" height="13.0" fill="#c0c0c6"/>
<rect x="254.24" y="71.55" width="2.65" height="13.0" fill="#c0c0c6"/>
<rect x="257.44" y="71.55" width="2.65" height="13.0" fill="#c0c0c6"/>
<rect x="260.64" y="71.55" width="2.65" height="13.0" fill="#c0c0c6"/>
<rect x="263.83" y="71.55" width="2.65" height="13.0" fill="#c0c0c6"/>
<rect x="267.03" y="71.55" width="2.65" height="13.0" fill="#c0c0c6"/>
<rect x="270.22" y="71.55" width="2.65" height="13.0" fill="#c0c0c6"/>
<rect x="273.42" y="71.55" width="2.65" height="13.0" fill="#c0c0c6"/>
<rect x="276.62" y="71.55" width="2.65" height="13.0" fill="#c0c0c6"/>
<rect x="279.81" y="71.55" width="2.65" height="13.0" fill="#c0c0c6"/>
<rect x="283.01" y="71.55" width="2.65" height="13.0" fill="#c0c0c6"/>
<rect x="286.2" y="71.55" width="2.65" height="13.0" fill="#c0c0c6"/>
<rect x="289.4" y="71.55" width="2.65" height="13.0" fill="#c0c0c6"/>
<rect x="292.6" y="71.55" width="2.65" height="13.0" fill="#c0c0c6"/>
<rect x="295.79" y="71.55" width="2.65" height="13.0" fill="#c0c0c6"/>
<rect x="298.99" y="71.55" width="2.65" height="13.0" fill="#c0c0c6"/>
<rect x="302.18" y="71.55" width="2.65" height="13.0" fill="#c0c0c6"/>
<rect x="305.38" y="71.55" width="2.65" height="13.0" fill="#c0c0c6"/>
<rect x="308.58" y="71.55" width="2.65" height="13.0" fill="#c0c0c6"/>
<rect x="311.77" y="71.55" width="2.65" height="13.0" fill="#c0c0c6"/>
<rect x="314.97" y="71.55" width="2.65" height="13.0" fill="#c0c0c6"/>
<rect x="318.16" y="71.55" width="2.65" height="13.0" fill="#c0c0c6"/>
<rect x="321.36" y="71.55" width="2.65" height="13.0" fill="#c0c0c6"/>
<rect x="324.56" y="71.55" width="2.65" height="13.0" fill="#c0c0c6"/>
<rect x="327.75" y="71.55" width="2.65" height="13.0" fill="#c0c0c6"/>
<rect x="330.95" y="71.55" width="2.65" height="13.0" fill="#c0c0c6"/>
<rect x="334.14" y="71.55" width="2.65" height="13.0" fill="#c0c0c6"/>
<rect x="337.34" y="71.55" width="2.65" height="13.0" fill="#c0c0c6"/>
<rect x="340.54" y="71.55" width="2.65" height="13.0" fill="#c0c0c6"/>
<rect x="343.73" y="71.55" width="2.65" height="13.0" fill="#c0c0c6"/>
<rect x="346.93" y="71.55" width="2.65" height="13.0" fill="#c0c0c6"/>
<rect x="350.12" y="71.55" width="2.65" height="13.0" fill="#c0c0c6"/>
<rect x="353.32" y="71.55" width="2.65" height="13.0" fill="#c0c0c6"/>
<rect x="356.52" y="71.55" width="2.65" height="13.0" fill="#c0c0c6"/>
<rect x="359.71" y="71.55" width="2.65" height="13.0" fill="#c0c0c6"/>
<rect x="362.91" y="71.55" width="2.65" height="13.0" fill="#c0c0c6"/>
<rect x="366.1" y="71.55" width="2.65" height="13.0" fill="#c0c0c6"/>
<rect x="369.3" y="71.55" width="2.65" height="13.0" fill="#c0c0c6"/>
<rect x="372.5" y="71.55" width="2.65" height="13.0" fill="#c0c0c6"/>
<rect x="375.69" y="71.55" width="2.65" height="13.0" fill="#c0c0c6"/>
<rect x="378.89" y="71.55" width="2.65" height="13.0" fill="#c0c0c6"/>
<rect x="382.08" y="71.55" width="2.65" height="13.0" fill="#c0c0c6"/>
<rect x="385.28" y="71.55" width="2.65" height="13.0" fill="#c0c0c6"/>
<rect x="388.48" y="71.55" width="2.65" height="13.0" fill="#c0c0c6"/>
<text x="30.7" y="82.2" font-size="8.1" fill="#2e2e2e" textLength="15.1" lengthAdjust="spacingAndGlyphs">13%</text>
<text x="393.9" y="81" font-size="7.9" fill="#111" font-weight="bold" textLength="24.2" lengthAdjust="spacingAndGlyphs">CSF3R</text>
<rect x="423.9" y="74.05" width="2.43" height="8.0" fill="#0c4a86"/>
<rect x="49.7" y="85.56" width="2.65" height="13.0" fill="#c0c0c6"/>
<rect x="52.9" y="85.56" width="2.65" height="13.0" fill="#c0c0c6"/>
<rect x="56.09" y="85.56" width="2.65" height="13.0" fill="#c0c0c6"/>
<rect x="59.29" y="85.56" width="2.65" height="13.0" fill="#c0c0c6"/>
<rect x="62.48" y="85.56" width="2.65" height="13.0" fill="#c0c0c6"/>
<rect x="65.68" y="85.56" width="2.65" height="13.0" fill="#c0c0c6"/>
<rect x="68.88" y="85.56" width="2.65" height="13.0" fill="#c0c0c6"/>
<rect x="72.07" y="85.56" width="2.65" height="13.0" fill="#c0c0c6"/>
<rect x="75.27" y="85.56" width="2.65" height="13.0" fill="#c0c0c6"/>
<rect x="78.46" y="85.56" width="2.65" height="13.0" fill="#c0c0c6"/>
<rect x="81.66" y="85.56" width="2.65" height="13.0" fill="#c0c0c6"/>
<rect x="84.86" y="85.56" width="2.65" height="13.0" fill="#c0c0c6"/>
<rect x="88.05" y="85.56" width="2.65" height="13.0" fill="#c0c0c6"/>
<rect x="91.25" y="85.56" width="2.65" height="13.0" fill="#c0c0c6"/>
<rect x="94.44" y="85.56" width="2.65" height="13.0" fill="#0c4a86"/>
<rect x="97.64" y="85.56" width="2.65" height="13.0" fill="#0c4a86"/>
<rect x="100.84" y="85.56" width="2.65" height="13.0" fill="#0c4a86"/>
<rect x="104.03" y="85.56" width="2.65" height="13.0" fill="#0c4a86"/>
<rect x="107.23" y="85.56" width="2.65" height="13.0" fill="#0c4a86"/>
<rect x="110.42" y="85.56" width="2.65" height="13.0" fill="#0c4a86"/>
<rect x="113.62" y="85.56" width="2.65" height="13.0" fill="#0c4a86"/>
<rect x="116.82" y="85.56" width="2.65" height="13.0" fill="#0c4a86"/>
<rect x="120.01" y="85.56" width="2.65" height="13.0" fill="#0c4a86"/>
<rect x="123.21" y="85.56" width="2.65" height="13.0" fill="#0c4a86"/>
<rect x="126.4" y="85.56" width="2.65" height="13.0" fill="#0c4a86"/>
<rect x="129.6" y="85.56" width="2.65" height="13.0" fill="#0c4a86"/>
<rect x="132.8" y="85.56" width="2.65" height="13.0" fill="#0c4a86"/>
<rect x="135.99" y="85.56" width="2.65" height="13.0" fill="#0c4a86"/>
<rect x="139.19" y="85.56" width="2.65" height="13.0" fill="#0c4a86"/>
<rect x="142.38" y="85.56" width="2.65" height="13.0" fill="#0c4a86"/>
<rect x="145.58" y="85.56" width="2.65" height="13.0" fill="#0c4a86"/>
<rect x="148.78" y="85.56" width="2.65" height="13.0" fill="#0c4a86"/>
<rect x="151.97" y="85.56" width="2.65" height="13.0" fill="#0c4a86"/>
<rect x="155.17" y="85.56" width="2.65" height="13.0" fill="#0c4a86"/>
<rect x="158.36" y="85.56" width="2.65" height="13.0" fill="#0c4a86"/>
<rect x="161.56" y="85.56" width="2.65" height="13.0" fill="#0c4a86"/>
<rect x="164.76" y="85.56" width="2.65" height="13.0" fill="#0c4a86"/>
<rect x="167.95" y="85.56" width="2.65" height="13.0" fill="#c0c0c6"/>
<rect x="171.15" y="85.56" width="2.65" height="13.0" fill="#c0c0c6"/>
<rect x="174.34" y="85.56" width="2.65" height="13.0" fill="#c0c0c6"/>
<rect x="177.54" y="85.56" width="2.65" height="13.0" fill="#c0c0c6"/>
<rect x="180.74" y="85.56" width="2.65" height="13.0" fill="#c0c0c6"/>
<rect x="183.93" y="85.56" width="2.65" height="13.0" fill="#c0c0c6"/>
<rect x="187.13" y="85.56" width="2.65" height="13.0" fill="#c0c0c6"/>
<rect x="190.32" y="85.56" width="2.65" height="13.0" fill="#c0c0c6"/>
<rect x="193.52" y="85.56" width="2.65" height="13.0" fill="#c0c0c6"/>
<rect x="196.72" y="85.56" width="2.65" height="13.0" fill="#c0c0c6"/>
<rect x="199.91" y="85.56" width="2.65" height="13.0" fill="#c0c0c6"/>
<rect x="203.11" y="85.56" width="2.65" height="13.0" fill="#c0c0c6"/>
<rect x="206.3" y="85.56" width="2.65" height="13.0" fill="#c0c0c6"/>
<rect x="209.5" y="85.56" width="2.65" height="13.0" fill="#c0c0c6"/>
<rect x="212.7" y="85.56" width="2.65" height="13.0" fill="#c0c0c6"/>
<rect x="215.89" y="85.56" width="2.65" height="13.0" fill="#c0c0c6"/>
<rect x="219.09" y="85.56" width="2.65" height="13.0" fill="#c0c0c6"/>
<rect x="222.28" y="85.56" width="2.65" height="13.0" fill="#c0c0c6"/>
<rect x="225.48" y="85.56" width="2.65" height="13.0" fill="#c0c0c6"/>
<rect x="228.68" y="85.56" width="2.65" height="13.0" fill="#c0c0c6"/>
<rect x="231.87" y="85.56" width="2.65" height="13.0" fill="#c0c0c6"/>
<rect x="235.07" y="85.56" width="2.65" height="13.0" fill="#c0c0c6"/>
<rect x="238.26" y="85.56" width="2.65" height="13.0" fill="#c0c0c6"/>
<rect x="241.46" y="85.56" width="2.65" height="13.0" fill="#c0c0c6"/>
<rect x="244.66" y="85.56" width="2.65" height="13.0" fill="#c0c0c6"/>
<rect x="247.85" y="85.56" width="2.65" height="13.0" fill="#c0c0c6"/>
<rect x="251.05" y="85.56" width="2.65" height="13.0" fill="#c0c0c6"/>
<rect x="254.24" y="85.56" width="2.65" height="13.0" fill="#c0c0c6"/>
<rect x="257.44" y="85.56" width="2.65" height="13.0" fill="#c0c0c6"/>
<rect x="260.64" y="85.56" width="2.65" height="13.0" fill="#c0c0c6"/>
<rect x="263.83" y="85.56" width="2.65" height="13.0" fill="#c0c0c6"/>
<rect x="267.03" y="85.56" width="2.65" height="13.0" fill="#c0c0c6"/>
<rect x="270.22" y="85.56" width="2.65" height="13.0" fill="#c0c0c6"/>
<rect x="273.42" y="85.56" width="2.65" height="13.0" fill="#c0c0c6"/>
<rect x="276.62" y="85.56" width="2.65" height="13.0" fill="#c0c0c6"/>
<rect x="279.81" y="85.56" width="2.65" height="13.0" fill="#c0c0c6"/>
<rect x="283.01" y="85.56" width="2.65" height="13.0" fill="#c0c0c6"/>
<rect x="286.2" y="85.56" width="2.65" height="13.0" fill="#c0c0c6"/>
<rect x="289.4" y="85.56" width="2.65" height="13.0" fill="#c0c0c6"/>
<rect x="292.6" y="85.56" width="2.65" height="13.0" fill="#c0c0c6"/>
<rect x="295.79" y="85.56" width="2.65" height="13.0" fill="#c0c0c6"/>
<rect x="298.99" y="85.56" width="2.65" height="13.0" fill="#c0c0c6"/>
<rect x="302.18" y="85.56" width="2.65" height="13.0" fill="#c0c0c6"/>
<rect x="305.38" y="85.56" width="2.65" height="13.0" fill="#c0c0c6"/>
<rect x="308.58" y="85.56" width="2.65" height="13.0" fill="#c0c0c6"/>
<rect x="311.77" y="85.56" width="2.65" height="13.0" fill="#c0c0c6"/>
<rect x="314.97" y="85.56" width="2.65" height="13.0" fill="#c0c0c6"/>
<rect x="318.16" y="85.56" width="2.65" height="13.0" fill="#c0c0c6"/>
<rect x="321.36" y="85.56" width="2.65" height="13.0" fill="#c0c0c6"/>
<rect x="324.56" y="85.56" width="2.65" height="13.0" fill="#c0c0c6"/>
<rect x="327.75" y="85.56" width="2.65" height="13.0" fill="#c0c0c6"/>
<rect x="330.95" y="85.56" width="2.65" height="13.0" fill="#c0c0c6"/>
<rect x="334.14" y="85.56" width="2.65" height="13.0" fill="#c0c0c6"/>
<rect x="337.34" y="85.56" width="2.65" height="13.0" fill="#c0c0c6"/>
<rect x="340.54" y="85.56" width="2.65" height="13.0" fill="#c0c0c6"/>
<rect x="343.73" y="85.56" width="2.65" height="13.0" fill="#c0c0c6"/>
<rect x="346.93" y="85.56" width="2.65" height="13.0" fill="#c0c0c6"/>
<rect x="350.12" y="85.56" width="2.65" height="13.0" fill="#c0c0c6"/>
<rect x="353.32" y="85.56" width="2.65" height="13.0" fill="#c0c0c6"/>
<rect x="356.52" y="85.56" width="2.65" height="13.0" fill="#c0c0c6"/>
<rect x="359.71" y="85.56" width="2.65" height="13.0" fill="#c0c0c6"/>
<rect x="362.91" y="85.56" width="2.65" height="13.0" fill="#c0c0c6"/>
<rect x="366.1" y="85.56" width="2.65" height="13.0" fill="#c0c0c6"/>
<rect x="369.3" y="85.56" width="2.65" height="13.0" fill="#c0c0c6"/>
<rect x="372.5" y="85.56" width="2.65" height="13.0" fill="#c0c0c6"/>
<rect x="375.69" y="85.56" width="2.65" height="13.0" fill="#c0c0c6"/>
<rect x="378.89" y="85.56" width="2.65" height="13.0" fill="#c0c0c6"/>
<rect x="382.08" y="85.56" width="2.65" height="13.0" fill="#c0c0c6"/>
<rect x="385.28" y="85.56" width="2.65" height="13.0" fill="#c0c0c6"/>
<rect x="388.48" y="85.56" width="2.65" height="13.0" fill="#c0c0c6"/>
<text x="30.7" y="96.21" font-size="8.1" fill="#2e2e2e" textLength="15.1" lengthAdjust="spacingAndGlyphs">21%</text>
<text x="393.9" y="95.01" font-size="7.9" fill="#111" font-weight="bold" textLength="24.9" lengthAdjust="spacingAndGlyphs">GATA2</text>
<rect x="423.9" y="88.06" width="3.99" height="8.0" fill="#0c4a86"/>
<rect x="49.7" y="99.57" width="2.65" height="13.0" fill="#0c4a86"/>
<rect x="52.9" y="99.57" width="2.65" height="13.0" fill="#0c4a86"/>
<rect x="56.09" y="99.57" width="2.65" height="13.0" fill="#0c4a86"/>
<rect x="59.29" y="99.57" width="2.65" height="13.0" fill="#0c4a86"/>
<rect x="62.48" y="99.57" width="2.65" height="13.0" fill="#c0c0c6"/>
<rect x="65.68" y="99.57" width="2.65" height="13.0" fill="#c0c0c6"/>
<rect x="68.88" y="99.57" width="2.65" height="13.0" fill="#c0c0c6"/>
<rect x="72.07" y="99.57" width="2.65" height="13.0" fill="#c0c0c6"/>
<rect x="75.27" y="99.57" width="2.65" height="13.0" fill="#c0c0c6"/>
<rect x="78.46" y="99.57" width="2.65" height="13.0" fill="#c0c0c6"/>
<rect x="81.66" y="99.57" width="2.65" height="13.0" fill="#c0c0c6"/>
<rect x="84.86" y="99.57" width="2.65" height="13.0" fill="#c0c0c6"/>
<rect x="88.05" y="99.57" width="2.65" height="13.0" fill="#c0c0c6"/>
<rect x="91.25" y="99.57" width="2.65" height="13.0" fill="#c0c0c6"/>
<rect x="94.44" y="99.57" width="2.65" height="13.0" fill="#0c4a86"/>
<rect x="97.64" y="99.57" width="2.65" height="13.0" fill="#0c4a86"/>
<rect x="100.84" y="99.57" width="2.65" height="13.0" fill="#0c4a86"/>
<rect x="104.03" y="99.57" width="2.65" height="13.0" fill="#0c4a86"/>
<rect x="107.23" y="99.57" width="2.65" height="13.0" fill="#0c4a86"/>
<rect x="110.42" y="99.57" width="2.65" height="13.0" fill="#0c4a86"/>
<rect x="113.62" y="99.57" width="2.65" height="13.0" fill="#0c4a86"/>
<rect x="116.82" y="99.57" width="2.65" height="13.0" fill="#0c4a86"/>
<rect x="120.01" y="99.57" width="2.65" height="13.0" fill="#0c4a86"/>
<rect x="123.21" y="99.57" width="2.65" height="13.0" fill="#0c4a86"/>
<rect x="126.4" y="99.57" width="2.65" height="13.0" fill="#c0c0c6"/>
<rect x="129.6" y="99.57" width="2.65" height="13.0" fill="#c0c0c6"/>
<rect x="132.8" y="99.57" width="2.65" height="13.0" fill="#c0c0c6"/>
<rect x="135.99" y="99.57" width="2.65" height="13.0" fill="#c0c0c6"/>
<rect x="139.19" y="99.57" width="2.65" height="13.0" fill="#c0c0c6"/>
<rect x="142.38" y="99.57" width="2.65" height="13.0" fill="#c0c0c6"/>
<rect x="145.58" y="99.57" width="2.65" height="13.0" fill="#c0c0c6"/>
<rect x="148.78" y="99.57" width="2.65" height="13.0" fill="#c0c0c6"/>
<rect x="151.97" y="99.57" width="2.65" height="13.0" fill="#c0c0c6"/>
<rect x="155.17" y="99.57" width="2.65" height="13.0" fill="#c0c0c6"/>
<rect x="158.36" y="99.57" width="2.65" height="13.0" fill="#c0c0c6"/>
<rect x="161.56" y="99.57" width="2.65" height="13.0" fill="#c0c0c6"/>
<rect x="164.76" y="99.57" width="2.65" height="13.0" fill="#c0c0c6"/>
<rect x="167.95" y="99.57" width="2.65" height="13.0" fill="#0c4a86"/>
<rect x="171.15" y="99.57" width="2.65" height="13.0" fill="#0c4a86"/>
<rect x="174.34" y="99.57" width="2.65" height="13.0" fill="#0c4a86"/>
<rect x="177.54" y="99.57" width="2.65" height="13.0" fill="#0c4a86"/>
<rect x="180.74" y="99.57" width="2.65" height="13.0" fill="#0c4a86"/>
<rect x="183.93" y="99.57" width="2.65" height="13.0" fill="#0c4a86"/>
<rect x="187.13" y="99.57" width="2.65" height="13.0" fill="#0c4a86"/>
<rect x="190.32" y="99.57" width="2.65" height="13.0" fill="#0c4a86"/>
<rect x="193.52" y="99.57" width="2.65" height="13.0" fill="#0c4a86"/>
<rect x="196.72" y="99.57" width="2.65" height="13.0" fill="#0c4a86"/>
<rect x="199.91" y="99.57" width="2.65" height="13.0" fill="#0c4a86"/>
<rect x="203.11" y="99.57" width="2.65" height="13.0" fill="#0c4a86"/>
<rect x="206.3" y="99.57" width="2.65" height="13.0" fill="#0c4a86"/>
<rect x="209.5" y="99.57" width="2.65" height="13.0" fill="#0c4a86"/>
<rect x="212.7" y="99.57" width="2.65" height="13.0" fill="#0c4a86"/>
<rect x="215.89" y="99.57" width="2.65" height="13.0" fill="#0c4a86"/>
<rect x="219.09" y="99.57" width="2.65" height="13.0" fill="#0c4a86"/>
<rect x="222.28" y="99.57" width="2.65" height="13.0" fill="#c0c0c6"/>
<rect x="225.48" y="99.57" width="2.65" height="13.0" fill="#c0c0c6"/>
<rect x="228.68" y="99.57" width="2.65" height="13.0" fill="#c0c0c6"/>
<rect x="231.87" y="99.57" width="2.65" height="13.0" fill="#c0c0c6"/>
<rect x="235.07" y="99.57" width="2.65" height="13.0" fill="#c0c0c6"/>
<rect x="238.26" y="99.57" width="2.65" height="13.0" fill="#c0c0c6"/>
<rect x="241.46" y="99.57" width="2.65" height="13.0" fill="#c0c0c6"/>
<rect x="244.66" y="99.57" width="2.65" height="13.0" fill="#c0c0c6"/>
<rect x="247.85" y="99.57" width="2.65" height="13.0" fill="#c0c0c6"/>
<rect x="251.05" y="99.57" width="2.65" height="13.0" fill="#c0c0c6"/>
<rect x="254.24" y="99.57" width="2.65" height="13.0" fill="#c0c0c6"/>
<rect x="257.44" y="99.57" width="2.65" height="13.0" fill="#c0c0c6"/>
<rect x="260.64" y="99.57" width="2.65" height="13.0" fill="#c0c0c6"/>
<rect x="263.83" y="99.57" width="2.65" height="13.0" fill="#c0c0c6"/>
<rect x="267.03" y="99.57" width="2.65" height="13.0" fill="#c0c0c6"/>
<rect x="270.22" y="99.57" width="2.65" height="13.0" fill="#c0c0c6"/>
<rect x="273.42" y="99.57" width="2.65" height="13.0" fill="#c0c0c6"/>
<rect x="276.62" y="99.57" width="2.65" height="13.0" fill="#c0c0c6"/>
<rect x="279.81" y="99.57" width="2.65" height="13.0" fill="#c0c0c6"/>
<rect x="283.01" y="99.57" width="2.65" height="13.0" fill="#c0c0c6"/>
<rect x="286.2" y="99.57" width="2.65" height="13.0" fill="#c0c0c6"/>
<rect x="289.4" y="99.57" width="2.65" height="13.0" fill="#c0c0c6"/>
<rect x="292.6" y="99.57" width="2.65" height="13.0" fill="#c0c0c6"/>
<rect x="295.79" y="99.57" width="2.65" height="13.0" fill="#c0c0c6"/>
<rect x="298.99" y="99.57" width="2.65" height="13.0" fill="#c0c0c6"/>
<rect x="302.18" y="99.57" width="2.65" height="13.0" fill="#c0c0c6"/>
<rect x="305.38" y="99.57" width="2.65" height="13.0" fill="#c0c0c6"/>
<rect x="308.58" y="99.57" width="2.65" height="13.0" fill="#c0c0c6"/>
<rect x="311.77" y="99.57" width="2.65" height="13.0" fill="#c0c0c6"/>
<rect x="314.97" y="99.57" width="2.65" height="13.0" fill="#c0c0c6"/>
<rect x="318.16" y="99.57" width="2.65" height="13.0" fill="#c0c0c6"/>
<rect x="321.36" y="99.57" width="2.65" height="13.0" fill="#c0c0c6"/>
<rect x="324.56" y="99.57" width="2.65" height="13.0" fill="#c0c0c6"/>
<rect x="327.75" y="99.57" width="2.65" height="13.0" fill="#c0c0c6"/>
<rect x="330.95" y="99.57" width="2.65" height="13.0" fill="#c0c0c6"/>
<rect x="334.14" y="99.57" width="2.65" height="13.0" fill="#c0c0c6"/>
<rect x="337.34" y="99.57" width="2.65" height="13.0" fill="#c0c0c6"/>
<rect x="340.54" y="99.57" width="2.65" height="13.0" fill="#c0c0c6"/>
<rect x="343.73" y="99.57" width="2.65" height="13.0" fill="#c0c0c6"/>
<rect x="346.93" y="99.57" width="2.65" height="13.0" fill="#c0c0c6"/>
<rect x="350.12" y="99.57" width="2.65" height="13.0" fill="#c0c0c6"/>
<rect x="353.32" y="99.57" width="2.65" height="13.0" fill="#c0c0c6"/>
<rect x="356.52" y="99.57" width="2.65" height="13.0" fill="#c0c0c6"/>
<rect x="359.71" y="99.57" width="2.65" height="13.0" fill="#c0c0c6"/>
<rect x="362.91" y="99.57" width="2.65" height="13.0" fill="#c0c0c6"/>
<rect x="366.1" y="99.57" width="2.65" height="13.0" fill="#c0c0c6"/>
<rect x="369.3" y="99.57" width="2.65" height="13.0" fill="#c0c0c6"/>
<rect x="372.5" y="99.57" width="2.65" height="13.0" fill="#c0c0c6"/>
<rect x="375.69" y="99.57" width="2.65" height="13.0" fill="#c0c0c6"/>
<rect x="378.89" y="99.57" width="2.65" height="13.0" fill="#c0c0c6"/>
<rect x="382.08" y="99.57" width="2.65" height="13.0" fill="#c0c0c6"/>
<rect x="385.28" y="99.57" width="2.65" height="13.0" fill="#c0c0c6"/>
<rect x="388.48" y="99.57" width="2.65" height="13.0" fill="#c0c0c6"/>
<text x="30.5" y="110.22" font-size="8.1" fill="#2e2e2e" textLength="15.3" lengthAdjust="spacingAndGlyphs">29%</text>
<text x="393.9" y="109.02" font-size="7.9" fill="#111" font-weight="bold" textLength="21.3" lengthAdjust="spacingAndGlyphs">NRAS</text>
<rect x="423.9" y="102.07" width="5.38" height="8.0" fill="#0c4a86"/>
<rect x="49.7" y="113.58" width="2.65" height="13.0" fill="#0c4a86"/>
<rect x="52.9" y="113.58" width="2.65" height="13.0" fill="#c0c0c6"/>
<rect x="56.09" y="113.58" width="2.65" height="13.0" fill="#c0c0c6"/>
<rect x="59.29" y="113.58" width="2.65" height="13.0" fill="#c0c0c6"/>
<rect x="62.48" y="113.58" width="2.65" height="13.0" fill="#0c4a86"/>
<rect x="65.68" y="113.58" width="2.65" height="13.0" fill="#c0c0c6"/>
<rect x="68.88" y="113.58" width="2.65" height="13.0" fill="#c0c0c6"/>
<rect x="72.07" y="113.58" width="2.65" height="13.0" fill="#c0c0c6"/>
<rect x="75.27" y="113.58" width="2.65" height="13.0" fill="#c0c0c6"/>
<rect x="78.46" y="113.58" width="2.65" height="13.0" fill="#c0c0c6"/>
<rect x="81.66" y="113.58" width="2.65" height="13.0" fill="#c0c0c6"/>
<rect x="84.86" y="113.58" width="2.65" height="13.0" fill="#c0c0c6"/>
<rect x="88.05" y="113.58" width="2.65" height="13.0" fill="#c0c0c6"/>
<rect x="91.25" y="113.58" width="2.65" height="13.0" fill="#c0c0c6"/>
<rect x="94.44" y="113.58" width="2.65" height="13.0" fill="#0c4a86"/>
<rect x="97.64" y="113.58" width="2.65" height="13.0" fill="#c0c0c6"/>
<rect x="100.84" y="113.58" width="2.65" height="13.0" fill="#c0c0c6"/>
<rect x="104.03" y="113.58" width="2.65" height="13.0" fill="#c0c0c6"/>
<rect x="107.23" y="113.58" width="2.65" height="13.0" fill="#c0c0c6"/>
<rect x="110.42" y="113.58" width="2.65" height="13.0" fill="#c0c0c6"/>
<rect x="113.62" y="113.58" width="2.65" height="13.0" fill="#c0c0c6"/>
<rect x="116.82" y="113.58" width="2.65" height="13.0" fill="#c0c0c6"/>
<rect x="120.01" y="113.58" width="2.65" height="13.0" fill="#c0c0c6"/>
<rect x="123.21" y="113.58" width="2.65" height="13.0" fill="#c0c0c6"/>
<rect x="126.4" y="113.58" width="2.65" height="13.0" fill="#c0c0c6"/>
<rect x="129.6" y="113.58" width="2.65" height="13.0" fill="#c0c0c6"/>
<rect x="132.8" y="113.58" width="2.65" height="13.0" fill="#c0c0c6"/>
<rect x="135.99" y="113.58" width="2.65" height="13.0" fill="#c0c0c6"/>
<rect x="139.19" y="113.58" width="2.65" height="13.0" fill="#c0c0c6"/>
<rect x="142.38" y="113.58" width="2.65" height="13.0" fill="#c0c0c6"/>
<rect x="145.58" y="113.58" width="2.65" height="13.0" fill="#c0c0c6"/>
<rect x="148.78" y="113.58" width="2.65" height="13.0" fill="#c0c0c6"/>
<rect x="151.97" y="113.58" width="2.65" height="13.0" fill="#c0c0c6"/>
<rect x="155.17" y="113.58" width="2.65" height="13.0" fill="#c0c0c6"/>
<rect x="158.36" y="113.58" width="2.65" height="13.0" fill="#c0c0c6"/>
<rect x="161.56" y="113.58" width="2.65" height="13.0" fill="#c0c0c6"/>
<rect x="164.76" y="113.58" width="2.65" height="13.0" fill="#c0c0c6"/>
<rect x="167.95" y="113.58" width="2.65" height="13.0" fill="#c0c0c6"/>
<rect x="171.15" y="113.58" width="2.65" height="13.0" fill="#c0c0c6"/>
<rect x="174.34" y="113.58" width="2.65" height="13.0" fill="#c0c0c6"/>
<rect x="177.54" y="113.58" width="2.65" height="13.0" fill="#c0c0c6"/>
<rect x="180.74" y="113.58" width="2.65" height="13.0" fill="#c0c0c6"/>
<rect x="183.93" y="113.58" width="2.65" height="13.0" fill="#c0c0c6"/>
<rect x="187.13" y="113.58" width="2.65" height="13.0" fill="#c0c0c6"/>
<rect x="190.32" y="113.58" width="2.65" height="13.0" fill="#c0c0c6"/>
<rect x="193.52" y="113.58" width="2.65" height="13.0" fill="#c0c0c6"/>
<rect x="196.72" y="113.58" width="2.65" height="13.0" fill="#c0c0c6"/>
<rect x="199.91" y="113.58" width="2.65" height="13.0" fill="#c0c0c6"/>
<rect x="203.11" y="113.58" width="2.65" height="13.0" fill="#c0c0c6"/>
<rect x="206.3" y="113.58" width="2.65" height="13.0" fill="#c0c0c6"/>
<rect x="209.5" y="113.58" width="2.65" height="13.0" fill="#c0c0c6"/>
<rect x="212.7" y="113.58" width="2.65" height="13.0" fill="#c0c0c6"/>
<rect x="215.89" y="113.58" width="2.65" height="13.0" fill="#c0c0c6"/>
<rect x="219.09" y="113.58" width="2.65" height="13.0" fill="#c0c0c6"/>
<rect x="222.28" y="113.58" width="2.65" height="13.0" fill="#0c4a86"/>
<rect x="225.48" y="113.58" width="2.65" height="13.0" fill="#0c4a86"/>
<rect x="228.68" y="113.58" width="2.65" height="13.0" fill="#0c4a86"/>
<rect x="231.87" y="113.58" width="2.65" height="13.0" fill="#0c4a86"/>
<rect x="235.07" y="113.58" width="2.65" height="13.0" fill="#0c4a86"/>
<rect x="238.26" y="113.58" width="2.65" height="13.0" fill="#0c4a86"/>
<rect x="241.46" y="113.58" width="2.65" height="13.0" fill="#0c4a86"/>
<rect x="244.66" y="113.58" width="2.65" height="13.0" fill="#0c4a86"/>
<rect x="247.85" y="113.58" width="2.65" height="13.0" fill="#0c4a86"/>
<rect x="251.05" y="113.58" width="2.65" height="13.0" fill="#c0c0c6"/>
<rect x="254.24" y="113.58" width="2.65" height="13.0" fill="#c0c0c6"/>
<rect x="257.44" y="113.58" width="2.65" height="13.0" fill="#c0c0c6"/>
<rect x="260.64" y="113.58" width="2.65" height="13.0" fill="#c0c0c6"/>
<rect x="263.83" y="113.58" width="2.65" height="13.0" fill="#c0c0c6"/>
<rect x="267.03" y="113.58" width="2.65" height="13.0" fill="#c0c0c6"/>
<rect x="270.22" y="113.58" width="2.65" height="13.0" fill="#c0c0c6"/>
<rect x="273.42" y="113.58" width="2.65" height="13.0" fill="#c0c0c6"/>
<rect x="276.62" y="113.58" width="2.65" height="13.0" fill="#c0c0c6"/>
<rect x="279.81" y="113.58" width="2.65" height="13.0" fill="#c0c0c6"/>
<rect x="283.01" y="113.58" width="2.65" height="13.0" fill="#c0c0c6"/>
<rect x="286.2" y="113.58" width="2.65" height="13.0" fill="#c0c0c6"/>
<rect x="289.4" y="113.58" width="2.65" height="13.0" fill="#c0c0c6"/>
<rect x="292.6" y="113.58" width="2.65" height="13.0" fill="#c0c0c6"/>
<rect x="295.79" y="113.58" width="2.65" height="13.0" fill="#c0c0c6"/>
<rect x="298.99" y="113.58" width="2.65" height="13.0" fill="#c0c0c6"/>
<rect x="302.18" y="113.58" width="2.65" height="13.0" fill="#c0c0c6"/>
<rect x="305.38" y="113.58" width="2.65" height="13.0" fill="#c0c0c6"/>
<rect x="308.58" y="113.58" width="2.65" height="13.0" fill="#c0c0c6"/>
<rect x="311.77" y="113.58" width="2.65" height="13.0" fill="#c0c0c6"/>
<rect x="314.97" y="113.58" width="2.65" height="13.0" fill="#c0c0c6"/>
<rect x="318.16" y="113.58" width="2.65" height="13.0" fill="#c0c0c6"/>
<rect x="321.36" y="113.58" width="2.65" height="13.0" fill="#c0c0c6"/>
<rect x="324.56" y="113.58" width="2.65" height="13.0" fill="#c0c0c6"/>
<rect x="327.75" y="113.58" width="2.65" height="13.0" fill="#c0c0c6"/>
<rect x="330.95" y="113.58" width="2.65" height="13.0" fill="#c0c0c6"/>
<rect x="334.14" y="113.58" width="2.65" height="13.0" fill="#c0c0c6"/>
<rect x="337.34" y="113.58" width="2.65" height="13.0" fill="#c0c0c6"/>
<rect x="340.54" y="113.58" width="2.65" height="13.0" fill="#c0c0c6"/>
<rect x="343.73" y="113.58" width="2.65" height="13.0" fill="#c0c0c6"/>
<rect x="346.93" y="113.58" width="2.65" height="13.0" fill="#c0c0c6"/>
<rect x="350.12" y="113.58" width="2.65" height="13.0" fill="#c0c0c6"/>
<rect x="353.32" y="113.58" width="2.65" height="13.0" fill="#c0c0c6"/>
<rect x="356.52" y="113.58" width="2.65" height="13.0" fill="#c0c0c6"/>
<rect x="359.71" y="113.58" width="2.65" height="13.0" fill="#c0c0c6"/>
<rect x="362.91" y="113.58" width="2.65" height="13.0" fill="#c0c0c6"/>
<rect x="366.1" y="113.58" width="2.65" height="13.0" fill="#c0c0c6"/>
<rect x="369.3" y="113.58" width="2.65" height="13.0" fill="#c0c0c6"/>
<rect x="372.5" y="113.58" width="2.65" height="13.0" fill="#c0c0c6"/>
<rect x="375.69" y="113.58" width="2.65" height="13.0" fill="#c0c0c6"/>
<rect x="378.89" y="113.58" width="2.65" height="13.0" fill="#c0c0c6"/>
<rect x="382.08" y="113.58" width="2.65" height="13.0" fill="#c0c0c6"/>
<rect x="385.28" y="113.58" width="2.65" height="13.0" fill="#c0c0c6"/>
<rect x="388.48" y="113.58" width="2.65" height="13.0" fill="#c0c0c6"/>
<text x="31" y="124.23" font-size="8.1" fill="#2e2e2e" textLength="14.8" lengthAdjust="spacingAndGlyphs">11%</text>
<text x="393.9" y="123.03" font-size="7.9" fill="#111" font-weight="bold" textLength="16.7" lengthAdjust="spacingAndGlyphs">FLT3</text>
<rect x="423.9" y="116.08" width="2.08" height="8.0" fill="#0c4a86"/>
<rect x="49.7" y="127.59" width="2.65" height="13.0" fill="#c0c0c6"/>
<rect x="52.9" y="127.59" width="2.65" height="13.0" fill="#0c4a86"/>
<rect x="56.09" y="127.59" width="2.65" height="13.0" fill="#c0c0c6"/>
<rect x="59.29" y="127.59" width="2.65" height="13.0" fill="#c0c0c6"/>
<rect x="62.48" y="127.59" width="2.65" height="13.0" fill="#c0c0c6"/>
<rect x="65.68" y="127.59" width="2.65" height="13.0" fill="#0c4a86"/>
<rect x="68.88" y="127.59" width="2.65" height="13.0" fill="#0c4a86"/>
<rect x="72.07" y="127.59" width="2.65" height="13.0" fill="#0c4a86"/>
<rect x="75.27" y="127.59" width="2.65" height="13.0" fill="#c0c0c6"/>
<rect x="78.46" y="127.59" width="2.65" height="13.0" fill="#c0c0c6"/>
<rect x="81.66" y="127.59" width="2.65" height="13.0" fill="#c0c0c6"/>
<rect x="84.86" y="127.59" width="2.65" height="13.0" fill="#c0c0c6"/>
<rect x="88.05" y="127.59" width="2.65" height="13.0" fill="#c0c0c6"/>
<rect x="91.25" y="127.59" width="2.65" height="13.0" fill="#c0c0c6"/>
<rect x="94.44" y="127.59" width="2.65" height="13.0" fill="#0c4a86"/>
<rect x="97.64" y="127.59" width="2.65" height="13.0" fill="#c0c0c6"/>
<rect x="100.84" y="127.59" width="2.65" height="13.0" fill="#c0c0c6"/>
<rect x="104.03" y="127.59" width="2.65" height="13.0" fill="#c0c0c6"/>
<rect x="107.23" y="127.59" width="2.65" height="13.0" fill="#c0c0c6"/>
<rect x="110.42" y="127.59" width="2.65" height="13.0" fill="#c0c0c6"/>
<rect x="113.62" y="127.59" width="2.65" height="13.0" fill="#c0c0c6"/>
<rect x="116.82" y="127.59" width="2.65" height="13.0" fill="#c0c0c6"/>
<rect x="120.01" y="127.59" width="2.65" height="13.0" fill="#c0c0c6"/>
<rect x="123.21" y="127.59" width="2.65" height="13.0" fill="#c0c0c6"/>
<rect x="126.4" y="127.59" width="2.65" height="13.0" fill="#0c4a86"/>
<rect x="129.6" y="127.59" width="2.65" height="13.0" fill="#c0c0c6"/>
<rect x="132.8" y="127.59" width="2.65" height="13.0" fill="#c0c0c6"/>
<rect x="135.99" y="127.59" width="2.65" height="13.0" fill="#c0c0c6"/>
<rect x="139.19" y="127.59" width="2.65" height="13.0" fill="#c0c0c6"/>
<rect x="142.38" y="127.59" width="2.65" height="13.0" fill="#c0c0c6"/>
<rect x="145.58" y="127.59" width="2.65" height="13.0" fill="#c0c0c6"/>
<rect x="148.78" y="127.59" width="2.65" height="13.0" fill="#c0c0c6"/>
<rect x="151.97" y="127.59" width="2.65" height="13.0" fill="#c0c0c6"/>
<rect x="155.17" y="127.59" width="2.65" height="13.0" fill="#c0c0c6"/>
<rect x="158.36" y="127.59" width="2.65" height="13.0" fill="#c0c0c6"/>
<rect x="161.56" y="127.59" width="2.65" height="13.0" fill="#c0c0c6"/>
<rect x="164.76" y="127.59" width="2.65" height="13.0" fill="#c0c0c6"/>
<rect x="167.95" y="127.59" width="2.65" height="13.0" fill="#0c4a86"/>
<rect x="171.15" y="127.59" width="2.65" height="13.0" fill="#0c4a86"/>
<rect x="174.34" y="127.59" width="2.65" height="13.0" fill="#0c4a86"/>
<rect x="177.54" y="127.59" width="2.65" height="13.0" fill="#0c4a86"/>
<rect x="180.74" y="127.59" width="2.65" height="13.0" fill="#c0c0c6"/>
<rect x="183.93" y="127.59" width="2.65" height="13.0" fill="#c0c0c6"/>
<rect x="187.13" y="127.59" width="2.65" height="13.0" fill="#c0c0c6"/>
<rect x="190.32" y="127.59" width="2.65" height="13.0" fill="#c0c0c6"/>
<rect x="193.52" y="127.59" width="2.65" height="13.0" fill="#c0c0c6"/>
<rect x="196.72" y="127.59" width="2.65" height="13.0" fill="#c0c0c6"/>
<rect x="199.91" y="127.59" width="2.65" height="13.0" fill="#c0c0c6"/>
<rect x="203.11" y="127.59" width="2.65" height="13.0" fill="#c0c0c6"/>
<rect x="206.3" y="127.59" width="2.65" height="13.0" fill="#c0c0c6"/>
<rect x="209.5" y="127.59" width="2.65" height="13.0" fill="#c0c0c6"/>
<rect x="212.7" y="127.59" width="2.65" height="13.0" fill="#c0c0c6"/>
<rect x="215.89" y="127.59" width="2.65" height="13.0" fill="#c0c0c6"/>
<rect x="219.09" y="127.59" width="2.65" height="13.0" fill="#c0c0c6"/>
<rect x="222.28" y="127.59" width="2.65" height="13.0" fill="#0c4a86"/>
<rect x="225.48" y="127.59" width="2.65" height="13.0" fill="#0c4a86"/>
<rect x="228.68" y="127.59" width="2.65" height="13.0" fill="#0c4a86"/>
<rect x="231.87" y="127.59" width="2.65" height="13.0" fill="#c0c0c6"/>
<rect x="235.07" y="127.59" width="2.65" height="13.0" fill="#c0c0c6"/>
<rect x="238.26" y="127.59" width="2.65" height="13.0" fill="#c0c0c6"/>
<rect x="241.46" y="127.59" width="2.65" height="13.0" fill="#c0c0c6"/>
<rect x="244.66" y="127.59" width="2.65" height="13.0" fill="#c0c0c6"/>
<rect x="247.85" y="127.59" width="2.65" height="13.0" fill="#c0c0c6"/>
<rect x="251.05" y="127.59" width="2.65" height="13.0" fill="#0c4a86"/>
<rect x="254.24" y="127.59" width="2.65" height="13.0" fill="#0c4a86"/>
<rect x="257.44" y="127.59" width="2.65" height="13.0" fill="#c0c0c6"/>
<rect x="260.64" y="127.59" width="2.65" height="13.0" fill="#c0c0c6"/>
<rect x="263.83" y="127.59" width="2.65" height="13.0" fill="#c0c0c6"/>
<rect x="267.03" y="127.59" width="2.65" height="13.0" fill="#c0c0c6"/>
<rect x="270.22" y="127.59" width="2.65" height="13.0" fill="#c0c0c6"/>
<rect x="273.42" y="127.59" width="2.65" height="13.0" fill="#c0c0c6"/>
<rect x="276.62" y="127.59" width="2.65" height="13.0" fill="#c0c0c6"/>
<rect x="279.81" y="127.59" width="2.65" height="13.0" fill="#c0c0c6"/>
<rect x="283.01" y="127.59" width="2.65" height="13.0" fill="#c0c0c6"/>
<rect x="286.2" y="127.59" width="2.65" height="13.0" fill="#c0c0c6"/>
<rect x="289.4" y="127.59" width="2.65" height="13.0" fill="#c0c0c6"/>
<rect x="292.6" y="127.59" width="2.65" height="13.0" fill="#c0c0c6"/>
<rect x="295.79" y="127.59" width="2.65" height="13.0" fill="#c0c0c6"/>
<rect x="298.99" y="127.59" width="2.65" height="13.0" fill="#c0c0c6"/>
<rect x="302.18" y="127.59" width="2.65" height="13.0" fill="#c0c0c6"/>
<rect x="305.38" y="127.59" width="2.65" height="13.0" fill="#c0c0c6"/>
<rect x="308.58" y="127.59" width="2.65" height="13.0" fill="#c0c0c6"/>
<rect x="311.77" y="127.59" width="2.65" height="13.0" fill="#c0c0c6"/>
<rect x="314.97" y="127.59" width="2.65" height="13.0" fill="#c0c0c6"/>
<rect x="318.16" y="127.59" width="2.65" height="13.0" fill="#c0c0c6"/>
<rect x="321.36" y="127.59" width="2.65" height="13.0" fill="#c0c0c6"/>
<rect x="324.56" y="127.59" width="2.65" height="13.0" fill="#c0c0c6"/>
<rect x="327.75" y="127.59" width="2.65" height="13.0" fill="#c0c0c6"/>
<rect x="330.95" y="127.59" width="2.65" height="13.0" fill="#c0c0c6"/>
<rect x="334.14" y="127.59" width="2.65" height="13.0" fill="#c0c0c6"/>
<rect x="337.34" y="127.59" width="2.65" height="13.0" fill="#c0c0c6"/>
<rect x="340.54" y="127.59" width="2.65" height="13.0" fill="#c0c0c6"/>
<rect x="343.73" y="127.59" width="2.65" height="13.0" fill="#c0c0c6"/>
<rect x="346.93" y="127.59" width="2.65" height="13.0" fill="#c0c0c6"/>
<rect x="350.12" y="127.59" width="2.65" height="13.0" fill="#c0c0c6"/>
<rect x="353.32" y="127.59" width="2.65" height="13.0" fill="#c0c0c6"/>
<rect x="356.52" y="127.59" width="2.65" height="13.0" fill="#c0c0c6"/>
<rect x="359.71" y="127.59" width="2.65" height="13.0" fill="#c0c0c6"/>
<rect x="362.91" y="127.59" width="2.65" height="13.0" fill="#c0c0c6"/>
<rect x="366.1" y="127.59" width="2.65" height="13.0" fill="#c0c0c6"/>
<rect x="369.3" y="127.59" width="2.65" height="13.0" fill="#c0c0c6"/>
<rect x="372.5" y="127.59" width="2.65" height="13.0" fill="#c0c0c6"/>
<rect x="375.69" y="127.59" width="2.65" height="13.0" fill="#c0c0c6"/>
<rect x="378.89" y="127.59" width="2.65" height="13.0" fill="#c0c0c6"/>
<rect x="382.08" y="127.59" width="2.65" height="13.0" fill="#c0c0c6"/>
<rect x="385.28" y="127.59" width="2.65" height="13.0" fill="#c0c0c6"/>
<rect x="388.48" y="127.59" width="2.65" height="13.0" fill="#c0c0c6"/>
<text x="31" y="138.24" font-size="8.1" fill="#2e2e2e" textLength="14.8" lengthAdjust="spacingAndGlyphs">14%</text>
<text x="393.9" y="137.04" font-size="7.9" fill="#111" font-weight="bold" textLength="15.5" lengthAdjust="spacingAndGlyphs">WT1</text>
<rect x="423.9" y="130.09" width="2.6" height="8.0" fill="#0c4a86"/>
<rect x="49.7" y="141.6" width="2.65" height="13.0" fill="#c0c0c6"/>
<rect x="52.9" y="141.6" width="2.65" height="13.0" fill="#c0c0c6"/>
<rect x="56.09" y="141.6" width="2.65" height="13.0" fill="#c0c0c6"/>
<rect x="59.29" y="141.6" width="2.65" height="13.0" fill="#c0c0c6"/>
<rect x="62.48" y="141.6" width="2.65" height="13.0" fill="#c0c0c6"/>
<rect x="65.68" y="141.6" width="2.65" height="13.0" fill="#c0c0c6"/>
<rect x="68.88" y="141.6" width="2.65" height="13.0" fill="#c0c0c6"/>
<rect x="72.07" y="141.6" width="2.65" height="13.0" fill="#c0c0c6"/>
<rect x="75.27" y="141.6" width="2.65" height="13.0" fill="#0c4a86"/>
<rect x="78.46" y="141.6" width="2.65" height="13.0" fill="#c0c0c6"/>
<rect x="81.66" y="141.6" width="2.65" height="13.0" fill="#c0c0c6"/>
<rect x="84.86" y="141.6" width="2.65" height="13.0" fill="#c0c0c6"/>
<rect x="88.05" y="141.6" width="2.65" height="13.0" fill="#c0c0c6"/>
<rect x="91.25" y="141.6" width="2.65" height="13.0" fill="#c0c0c6"/>
<rect x="94.44" y="141.6" width="2.65" height="13.0" fill="#c0c0c6"/>
<rect x="97.64" y="141.6" width="2.65" height="13.0" fill="#0c4a86"/>
<rect x="100.84" y="141.6" width="2.65" height="13.0" fill="#0c4a86"/>
<rect x="104.03" y="141.6" width="2.65" height="13.0" fill="#c0c0c6"/>
<rect x="107.23" y="141.6" width="2.65" height="13.0" fill="#c0c0c6"/>
<rect x="110.42" y="141.6" width="2.65" height="13.0" fill="#c0c0c6"/>
<rect x="113.62" y="141.6" width="2.65" height="13.0" fill="#c0c0c6"/>
<rect x="116.82" y="141.6" width="2.65" height="13.0" fill="#c0c0c6"/>
<rect x="120.01" y="141.6" width="2.65" height="13.0" fill="#c0c0c6"/>
<rect x="123.21" y="141.6" width="2.65" height="13.0" fill="#c0c0c6"/>
<rect x="126.4" y="141.6" width="2.65" height="13.0" fill="#c0c0c6"/>
<rect x="129.6" y="141.6" width="2.65" height="13.0" fill="#c0c0c6"/>
<rect x="132.8" y="141.6" width="2.65" height="13.0" fill="#c0c0c6"/>
<rect x="135.99" y="141.6" width="2.65" height="13.0" fill="#c0c0c6"/>
<rect x="139.19" y="141.6" width="2.65" height="13.0" fill="#c0c0c6"/>
<rect x="142.38" y="141.6" width="2.65" height="13.0" fill="#c0c0c6"/>
<rect x="145.58" y="141.6" width="2.65" height="13.0" fill="#c0c0c6"/>
<rect x="148.78" y="141.6" width="2.65" height="13.0" fill="#c0c0c6"/>
<rect x="151.97" y="141.6" width="2.65" height="13.0" fill="#c0c0c6"/>
<rect x="155.17" y="141.6" width="2.65" height="13.0" fill="#c0c0c6"/>
<rect x="158.36" y="141.6" width="2.65" height="13.0" fill="#c0c0c6"/>
<rect x="161.56" y="141.6" width="2.65" height="13.0" fill="#c0c0c6"/>
<rect x="164.76" y="141.6" width="2.65" height="13.0" fill="#c0c0c6"/>
<rect x="167.95" y="141.6" width="2.65" height="13.0" fill="#0c4a86"/>
<rect x="171.15" y="141.6" width="2.65" height="13.0" fill="#c0c0c6"/>
<rect x="174.34" y="141.6" width="2.65" height="13.0" fill="#c0c0c6"/>
<rect x="177.54" y="141.6" width="2.65" height="13.0" fill="#c0c0c6"/>
<rect x="180.74" y="141.6" width="2.65" height="13.0" fill="#0c4a86"/>
<rect x="183.93" y="141.6" width="2.65" height="13.0" fill="#c0c0c6"/>
<rect x="187.13" y="141.6" width="2.65" height="13.0" fill="#c0c0c6"/>
<rect x="190.32" y="141.6" width="2.65" height="13.0" fill="#c0c0c6"/>
<rect x="193.52" y="141.6" width="2.65" height="13.0" fill="#c0c0c6"/>
<rect x="196.72" y="141.6" width="2.65" height="13.0" fill="#c0c0c6"/>
<rect x="199.91" y="141.6" width="2.65" height="13.0" fill="#c0c0c6"/>
<rect x="203.11" y="141.6" width="2.65" height="13.0" fill="#c0c0c6"/>
<rect x="206.3" y="141.6" width="2.65" height="13.0" fill="#c0c0c6"/>
<rect x="209.5" y="141.6" width="2.65" height="13.0" fill="#c0c0c6"/>
<rect x="212.7" y="141.6" width="2.65" height="13.0" fill="#c0c0c6"/>
<rect x="215.89" y="141.6" width="2.65" height="13.0" fill="#c0c0c6"/>
<rect x="219.09" y="141.6" width="2.65" height="13.0" fill="#c0c0c6"/>
<rect x="222.28" y="141.6" width="2.65" height="13.0" fill="#c0c0c6"/>
<rect x="225.48" y="141.6" width="2.65" height="13.0" fill="#c0c0c6"/>
<rect x="228.68" y="141.6" width="2.65" height="13.0" fill="#c0c0c6"/>
<rect x="231.87" y="141.6" width="2.65" height="13.0" fill="#c0c0c6"/>
<rect x="235.07" y="141.6" width="2.65" height="13.0" fill="#c0c0c6"/>
<rect x="238.26" y="141.6" width="2.65" height="13.0" fill="#c0c0c6"/>
<rect x="241.46" y="141.6" width="2.65" height="13.0" fill="#c0c0c6"/>
<rect x="244.66" y="141.6" width="2.65" height="13.0" fill="#c0c0c6"/>
<rect x="247.85" y="141.6" width="2.65" height="13.0" fill="#c0c0c6"/>
<rect x="251.05" y="141.6" width="2.65" height="13.0" fill="#c0c0c6"/>
<rect x="254.24" y="141.6" width="2.65" height="13.0" fill="#c0c0c6"/>
<rect x="257.44" y="141.6" width="2.65" height="13.0" fill="#0c4a86"/>
<rect x="260.64" y="141.6" width="2.65" height="13.0" fill="#0c4a86"/>
<rect x="263.83" y="141.6" width="2.65" height="13.0" fill="#c0c0c6"/>
<rect x="267.03" y="141.6" width="2.65" height="13.0" fill="#c0c0c6"/>
<rect x="270.22" y="141.6" width="2.65" height="13.0" fill="#c0c0c6"/>
<rect x="273.42" y="141.6" width="2.65" height="13.0" fill="#c0c0c6"/>
<rect x="276.62" y="141.6" width="2.65" height="13.0" fill="#c0c0c6"/>
<rect x="279.81" y="141.6" width="2.65" height="13.0" fill="#c0c0c6"/>
<rect x="283.01" y="141.6" width="2.65" height="13.0" fill="#c0c0c6"/>
<rect x="286.2" y="141.6" width="2.65" height="13.0" fill="#c0c0c6"/>
<rect x="289.4" y="141.6" width="2.65" height="13.0" fill="#c0c0c6"/>
<rect x="292.6" y="141.6" width="2.65" height="13.0" fill="#c0c0c6"/>
<rect x="295.79" y="141.6" width="2.65" height="13.0" fill="#c0c0c6"/>
<rect x="298.99" y="141.6" width="2.65" height="13.0" fill="#c0c0c6"/>
<rect x="302.18" y="141.6" width="2.65" height="13.0" fill="#c0c0c6"/>
<rect x="305.38" y="141.6" width="2.65" height="13.0" fill="#c0c0c6"/>
<rect x="308.58" y="141.6" width="2.65" height="13.0" fill="#c0c0c6"/>
<rect x="311.77" y="141.6" width="2.65" height="13.0" fill="#c0c0c6"/>
<rect x="314.97" y="141.6" width="2.65" height="13.0" fill="#c0c0c6"/>
<rect x="318.16" y="141.6" width="2.65" height="13.0" fill="#c0c0c6"/>
<rect x="321.36" y="141.6" width="2.65" height="13.0" fill="#c0c0c6"/>
<rect x="324.56" y="141.6" width="2.65" height="13.0" fill="#c0c0c6"/>
<rect x="327.75" y="141.6" width="2.65" height="13.0" fill="#c0c0c6"/>
<rect x="330.95" y="141.6" width="2.65" height="13.0" fill="#c0c0c6"/>
<rect x="334.14" y="141.6" width="2.65" height="13.0" fill="#c0c0c6"/>
<rect x="337.34" y="141.6" width="2.65" height="13.0" fill="#c0c0c6"/>
<rect x="340.54" y="141.6" width="2.65" height="13.0" fill="#c0c0c6"/>
<rect x="343.73" y="141.6" width="2.65" height="13.0" fill="#c0c0c6"/>
<rect x="346.93" y="141.6" width="2.65" height="13.0" fill="#c0c0c6"/>
<rect x="350.12" y="141.6" width="2.65" height="13.0" fill="#c0c0c6"/>
<rect x="353.32" y="141.6" width="2.65" height="13.0" fill="#c0c0c6"/>
<rect x="356.52" y="141.6" width="2.65" height="13.0" fill="#c0c0c6"/>
<rect x="359.71" y="141.6" width="2.65" height="13.0" fill="#c0c0c6"/>
<rect x="362.91" y="141.6" width="2.65" height="13.0" fill="#c0c0c6"/>
<rect x="366.1" y="141.6" width="2.65" height="13.0" fill="#c0c0c6"/>
<rect x="369.3" y="141.6" width="2.65" height="13.0" fill="#c0c0c6"/>
<rect x="372.5" y="141.6" width="2.65" height="13.0" fill="#c0c0c6"/>
<rect x="375.69" y="141.6" width="2.65" height="13.0" fill="#c0c0c6"/>
<rect x="378.89" y="141.6" width="2.65" height="13.0" fill="#c0c0c6"/>
<rect x="382.08" y="141.6" width="2.65" height="13.0" fill="#c0c0c6"/>
<rect x="385.28" y="141.6" width="2.65" height="13.0" fill="#c0c0c6"/>
<rect x="388.48" y="141.6" width="2.65" height="13.0" fill="#c0c0c6"/>
<text x="34.9" y="152.25" font-size="8.1" fill="#2e2e2e" textLength="10.9" lengthAdjust="spacingAndGlyphs">7%</text>
<text x="393.9" y="151.05" font-size="7.9" fill="#111" font-weight="bold" textLength="11.6" lengthAdjust="spacingAndGlyphs">KIT</text>
<rect x="423.9" y="144.1" width="1.21" height="8.0" fill="#0c4a86"/>
<rect x="49.7" y="155.61" width="2.65" height="13.0" fill="#c0c0c6"/>
<rect x="52.9" y="155.61" width="2.65" height="13.0" fill="#c0c0c6"/>
<rect x="56.09" y="155.61" width="2.65" height="13.0" fill="#c0c0c6"/>
<rect x="59.29" y="155.61" width="2.65" height="13.0" fill="#c0c0c6"/>
<rect x="62.48" y="155.61" width="2.65" height="13.0" fill="#c0c0c6"/>
<rect x="65.68" y="155.61" width="2.65" height="13.0" fill="#c0c0c6"/>
<rect x="68.88" y="155.61" width="2.65" height="13.0" fill="#c0c0c6"/>
<rect x="72.07" y="155.61" width="2.65" height="13.0" fill="#c0c0c6"/>
<rect x="75.27" y="155.61" width="2.65" height="13.0" fill="#c0c0c6"/>
<rect x="78.46" y="155.61" width="2.65" height="13.0" fill="#0c4a86"/>
<rect x="81.66" y="155.61" width="2.65" height="13.0" fill="#c0c0c6"/>
<rect x="84.86" y="155.61" width="2.65" height="13.0" fill="#c0c0c6"/>
<rect x="88.05" y="155.61" width="2.65" height="13.0" fill="#c0c0c6"/>
<rect x="91.25" y="155.61" width="2.65" height="13.0" fill="#c0c0c6"/>
<rect x="94.44" y="155.61" width="2.65" height="13.0" fill="#c0c0c6"/>
<rect x="97.64" y="155.61" width="2.65" height="13.0" fill="#c0c0c6"/>
<rect x="100.84" y="155.61" width="2.65" height="13.0" fill="#c0c0c6"/>
<rect x="104.03" y="155.61" width="2.65" height="13.0" fill="#c0c0c6"/>
<rect x="107.23" y="155.61" width="2.65" height="13.0" fill="#c0c0c6"/>
<rect x="110.42" y="155.61" width="2.65" height="13.0" fill="#c0c0c6"/>
<rect x="113.62" y="155.61" width="2.65" height="13.0" fill="#c0c0c6"/>
<rect x="116.82" y="155.61" width="2.65" height="13.0" fill="#c0c0c6"/>
<rect x="120.01" y="155.61" width="2.65" height="13.0" fill="#c0c0c6"/>
<rect x="123.21" y="155.61" width="2.65" height="13.0" fill="#c0c0c6"/>
<rect x="126.4" y="155.61" width="2.65" height="13.0" fill="#c0c0c6"/>
<rect x="129.6" y="155.61" width="2.65" height="13.0" fill="#0c4a86"/>
<rect x="132.8" y="155.61" width="2.65" height="13.0" fill="#0c4a86"/>
<rect x="135.99" y="155.61" width="2.65" height="13.0" fill="#c0c0c6"/>
<rect x="139.19" y="155.61" width="2.65" height="13.0" fill="#c0c0c6"/>
<rect x="142.38" y="155.61" width="2.65" height="13.0" fill="#c0c0c6"/>
<rect x="145.58" y="155.61" width="2.65" height="13.0" fill="#c0c0c6"/>
<rect x="148.78" y="155.61" width="2.65" height="13.0" fill="#c0c0c6"/>
<rect x="151.97" y="155.61" width="2.65" height="13.0" fill="#c0c0c6"/>
<rect x="155.17" y="155.61" width="2.65" height="13.0" fill="#c0c0c6"/>
<rect x="158.36" y="155.61" width="2.65" height="13.0" fill="#c0c0c6"/>
<rect x="161.56" y="155.61" width="2.65" height="13.0" fill="#c0c0c6"/>
<rect x="164.76" y="155.61" width="2.65" height="13.0" fill="#c0c0c6"/>
<rect x="167.95" y="155.61" width="2.65" height="13.0" fill="#c0c0c6"/>
<rect x="171.15" y="155.61" width="2.65" height="13.0" fill="#c0c0c6"/>
<rect x="174.34" y="155.61" width="2.65" height="13.0" fill="#c0c0c6"/>
<rect x="177.54" y="155.61" width="2.65" height="13.0" fill="#c0c0c6"/>
<rect x="180.74" y="155.61" width="2.65" height="13.0" fill="#c0c0c6"/>
<rect x="183.93" y="155.61" width="2.65" height="13.0" fill="#c0c0c6"/>
<rect x="187.13" y="155.61" width="2.65" height="13.0" fill="#c0c0c6"/>
<rect x="190.32" y="155.61" width="2.65" height="13.0" fill="#c0c0c6"/>
<rect x="193.52" y="155.61" width="2.65" height="13.0" fill="#c0c0c6"/>
<rect x="196.72" y="155.61" width="2.65" height="13.0" fill="#c0c0c6"/>
<rect x="199.91" y="155.61" width="2.65" height="13.0" fill="#c0c0c6"/>
<rect x="203.11" y="155.61" width="2.65" height="13.0" fill="#c0c0c6"/>
<rect x="206.3" y="155.61" width="2.65" height="13.0" fill="#c0c0c6"/>
<rect x="209.5" y="155.61" width="2.65" height="13.0" fill="#c0c0c6"/>
<rect x="212.7" y="155.61" width="2.65" height="13.0" fill="#c0c0c6"/>
<rect x="215.89" y="155.61" width="2.65" height="13.0" fill="#c0c0c6"/>
<rect x="219.09" y="155.61" width="2.65" height="13.0" fill="#c0c0c6"/>
<rect x="222.28" y="155.61" width="2.65" height="13.0" fill="#c0c0c6"/>
<rect x="225.48" y="155.61" width="2.65" height="13.0" fill="#c0c0c6"/>
<rect x="228.68" y="155.61" width="2.65" height="13.0" fill="#c0c0c6"/>
<rect x="231.87" y="155.61" width="2.65" height="13.0" fill="#c0c0c6"/>
<rect x="235.07" y="155.61" width="2.65" height="13.0" fill="#c0c0c6"/>
<rect x="238.26" y="155.61" width="2.65" height="13.0" fill="#c0c0c6"/>
<rect x="241.46" y="155.61" width="2.65" height="13.0" fill="#c0c0c6"/>
<rect x="244.66" y="155.61" width="2.65" height="13.0" fill="#c0c0c6"/>
<rect x="247.85" y="155.61" width="2.65" height="13.0" fill="#c0c0c6"/>
<rect x="251.05" y="155.61" width="2.65" height="13.0" fill="#c0c0c6"/>
<rect x="254.24" y="155.61" width="2.65" height="13.0" fill="#c0c0c6"/>
<rect x="257.44" y="155.61" width="2.65" height="13.0" fill="#c0c0c6"/>
<rect x="260.64" y="155.61" width="2.65" height="13.0" fill="#c0c0c6"/>
<rect x="263.83" y="155.61" width="2.65" height="13.0" fill="#0c4a86"/>
<rect x="267.03" y="155.61" width="2.65" height="13.0" fill="#0c4a86"/>
<rect x="270.22" y="155.61" width="2.65" height="13.0" fill="#0c4a86"/>
<rect x="273.42" y="155.61" width="2.65" height="13.0" fill="#0c4a86"/>
<rect x="276.62" y="155.61" width="2.65" height="13.0" fill="#0c4a86"/>
<rect x="279.81" y="155.61" width="2.65" height="13.0" fill="#c0c0c6"/>
<rect x="283.01" y="155.61" width="2.65" height="13.0" fill="#c0c0c6"/>
<rect x="286.2" y="155.61" width="2.65" height="13.0" fill="#c0c0c6"/>
<rect x="289.4" y="155.61" width="2.65" height="13.0" fill="#c0c0c6"/>
<rect x="292.6" y="155.61" width="2.65" height="13.0" fill="#c0c0c6"/>
<rect x="295.79" y="155.61" width="2.65" height="13.0" fill="#c0c0c6"/>
<rect x="298.99" y="155.61" width="2.65" height="13.0" fill="#c0c0c6"/>
<rect x="302.18" y="155.61" width="2.65" height="13.0" fill="#c0c0c6"/>
<rect x="305.38" y="155.61" width="2.65" height="13.0" fill="#c0c0c6"/>
<rect x="308.58" y="155.61" width="2.65" height="13.0" fill="#c0c0c6"/>
<rect x="311.77" y="155.61" width="2.65" height="13.0" fill="#c0c0c6"/>
<rect x="314.97" y="155.61" width="2.65" height="13.0" fill="#c0c0c6"/>
<rect x="318.16" y="155.61" width="2.65" height="13.0" fill="#c0c0c6"/>
<rect x="321.36" y="155.61" width="2.65" height="13.0" fill="#c0c0c6"/>
<rect x="324.56" y="155.61" width="2.65" height="13.0" fill="#c0c0c6"/>
<rect x="327.75" y="155.61" width="2.65" height="13.0" fill="#c0c0c6"/>
<rect x="330.95" y="155.61" width="2.65" height="13.0" fill="#c0c0c6"/>
<rect x="334.14" y="155.61" width="2.65" height="13.0" fill="#c0c0c6"/>
<rect x="337.34" y="155.61" width="2.65" height="13.0" fill="#c0c0c6"/>
<rect x="340.54" y="155.61" width="2.65" height="13.0" fill="#c0c0c6"/>
<rect x="343.73" y="155.61" width="2.65" height="13.0" fill="#c0c0c6"/>
<rect x="346.93" y="155.61" width="2.65" height="13.0" fill="#c0c0c6"/>
<rect x="350.12" y="155.61" width="2.65" height="13.0" fill="#c0c0c6"/>
<rect x="353.32" y="155.61" width="2.65" height="13.0" fill="#c0c0c6"/>
<rect x="356.52" y="155.61" width="2.65" height="13.0" fill="#c0c0c6"/>
<rect x="359.71" y="155.61" width="2.65" height="13.0" fill="#c0c0c6"/>
<rect x="362.91" y="155.61" width="2.65" height="13.0" fill="#c0c0c6"/>
<rect x="366.1" y="155.61" width="2.65" height="13.0" fill="#c0c0c6"/>
<rect x="369.3" y="155.61" width="2.65" height="13.0" fill="#c0c0c6"/>
<rect x="372.5" y="155.61" width="2.65" height="13.0" fill="#c0c0c6"/>
<rect x="375.69" y="155.61" width="2.65" height="13.0" fill="#c0c0c6"/>
<rect x="378.89" y="155.61" width="2.65" height="13.0" fill="#c0c0c6"/>
<rect x="382.08" y="155.61" width="2.65" height="13.0" fill="#c0c0c6"/>
<rect x="385.28" y="155.61" width="2.65" height="13.0" fill="#c0c0c6"/>
<rect x="388.48" y="155.61" width="2.65" height="13.0" fill="#c0c0c6"/>
<text x="34.9" y="166.26" font-size="8.1" fill="#2e2e2e" textLength="10.9" lengthAdjust="spacingAndGlyphs">7%</text>
<text x="393.9" y="165.06" font-size="7.9" fill="#111" font-weight="bold" textLength="26.4" lengthAdjust="spacingAndGlyphs">DHX15</text>
<rect x="423.9" y="158.11" width="1.39" height="8.0" fill="#0c4a86"/>
<rect x="49.7" y="169.62" width="2.65" height="13.0" fill="#c0c0c6"/>
<rect x="52.9" y="169.62" width="2.65" height="13.0" fill="#c0c0c6"/>
<rect x="56.09" y="169.62" width="2.65" height="13.0" fill="#c0c0c6"/>
<rect x="59.29" y="169.62" width="2.65" height="13.0" fill="#c0c0c6"/>
<rect x="62.48" y="169.62" width="2.65" height="13.0" fill="#c0c0c6"/>
<rect x="65.68" y="169.62" width="2.65" height="13.0" fill="#0c4a86"/>
<rect x="68.88" y="169.62" width="2.65" height="13.0" fill="#c0c0c6"/>
<rect x="72.07" y="169.62" width="2.65" height="13.0" fill="#c0c0c6"/>
<rect x="75.27" y="169.62" width="2.65" height="13.0" fill="#c0c0c6"/>
<rect x="78.46" y="169.62" width="2.65" height="13.0" fill="#c0c0c6"/>
<rect x="81.66" y="169.62" width="2.65" height="13.0" fill="#c0c0c6"/>
<rect x="84.86" y="169.62" width="2.65" height="13.0" fill="#c0c0c6"/>
<rect x="88.05" y="169.62" width="2.65" height="13.0" fill="#c0c0c6"/>
<rect x="91.25" y="169.62" width="2.65" height="13.0" fill="#c0c0c6"/>
<rect x="94.44" y="169.62" width="2.65" height="13.0" fill="#c0c0c6"/>
<rect x="97.64" y="169.62" width="2.65" height="13.0" fill="#0c4a86"/>
<rect x="100.84" y="169.62" width="2.65" height="13.0" fill="#c0c0c6"/>
<rect x="104.03" y="169.62" width="2.65" height="13.0" fill="#c0c0c6"/>
<rect x="107.23" y="169.62" width="2.65" height="13.0" fill="#c0c0c6"/>
<rect x="110.42" y="169.62" width="2.65" height="13.0" fill="#c0c0c6"/>
<rect x="113.62" y="169.62" width="2.65" height="13.0" fill="#c0c0c6"/>
<rect x="116.82" y="169.62" width="2.65" height="13.0" fill="#c0c0c6"/>
<rect x="120.01" y="169.62" width="2.65" height="13.0" fill="#c0c0c6"/>
<rect x="123.21" y="169.62" width="2.65" height="13.0" fill="#c0c0c6"/>
<rect x="126.4" y="169.62" width="2.65" height="13.0" fill="#0c4a86"/>
<rect x="129.6" y="169.62" width="2.65" height="13.0" fill="#0c4a86"/>
<rect x="132.8" y="169.62" width="2.65" height="13.0" fill="#c0c0c6"/>
<rect x="135.99" y="169.62" width="2.65" height="13.0" fill="#c0c0c6"/>
<rect x="139.19" y="169.62" width="2.65" height="13.0" fill="#c0c0c6"/>
<rect x="142.38" y="169.62" width="2.65" height="13.0" fill="#c0c0c6"/>
<rect x="145.58" y="169.62" width="2.65" height="13.0" fill="#c0c0c6"/>
<rect x="148.78" y="169.62" width="2.65" height="13.0" fill="#c0c0c6"/>
<rect x="151.97" y="169.62" width="2.65" height="13.0" fill="#c0c0c6"/>
<rect x="155.17" y="169.62" width="2.65" height="13.0" fill="#c0c0c6"/>
<rect x="158.36" y="169.62" width="2.65" height="13.0" fill="#c0c0c6"/>
<rect x="161.56" y="169.62" width="2.65" height="13.0" fill="#c0c0c6"/>
<rect x="164.76" y="169.62" width="2.65" height="13.0" fill="#c0c0c6"/>
<rect x="167.95" y="169.62" width="2.65" height="13.0" fill="#c0c0c6"/>
<rect x="171.15" y="169.62" width="2.65" height="13.0" fill="#c0c0c6"/>
<rect x="174.34" y="169.62" width="2.65" height="13.0" fill="#c0c0c6"/>
<rect x="177.54" y="169.62" width="2.65" height="13.0" fill="#c0c0c6"/>
<rect x="180.74" y="169.62" width="2.65" height="13.0" fill="#c0c0c6"/>
<rect x="183.93" y="169.62" width="2.65" height="13.0" fill="#c0c0c6"/>
<rect x="187.13" y="169.62" width="2.65" height="13.0" fill="#c0c0c6"/>
<rect x="190.32" y="169.62" width="2.65" height="13.0" fill="#c0c0c6"/>
<rect x="193.52" y="169.62" width="2.65" height="13.0" fill="#c0c0c6"/>
<rect x="196.72" y="169.62" width="2.65" height="13.0" fill="#c0c0c6"/>
<rect x="199.91" y="169.62" width="2.65" height="13.0" fill="#c0c0c6"/>
<rect x="203.11" y="169.62" width="2.65" height="13.0" fill="#c0c0c6"/>
<rect x="206.3" y="169.62" width="2.65" height="13.0" fill="#c0c0c6"/>
<rect x="209.5" y="169.62" width="2.65" height="13.0" fill="#c0c0c6"/>
<rect x="212.7" y="169.62" width="2.65" height="13.0" fill="#c0c0c6"/>
<rect x="215.89" y="169.62" width="2.65" height="13.0" fill="#c0c0c6"/>
<rect x="219.09" y="169.62" width="2.65" height="13.0" fill="#c0c0c6"/>
<rect x="222.28" y="169.62" width="2.65" height="13.0" fill="#c0c0c6"/>
<rect x="225.48" y="169.62" width="2.65" height="13.0" fill="#c0c0c6"/>
<rect x="228.68" y="169.62" width="2.65" height="13.0" fill="#c0c0c6"/>
<rect x="231.87" y="169.62" width="2.65" height="13.0" fill="#c0c0c6"/>
<rect x="235.07" y="169.62" width="2.65" height="13.0" fill="#c0c0c6"/>
<rect x="238.26" y="169.62" width="2.65" height="13.0" fill="#c0c0c6"/>
<rect x="241.46" y="169.62" width="2.65" height="13.0" fill="#c0c0c6"/>
<rect x="244.66" y="169.62" width="2.65" height="13.0" fill="#c0c0c6"/>
<rect x="247.85" y="169.62" width="2.65" height="13.0" fill="#c0c0c6"/>
<rect x="251.05" y="169.62" width="2.65" height="13.0" fill="#c0c0c6"/>
<rect x="254.24" y="169.62" width="2.65" height="13.0" fill="#c0c0c6"/>
<rect x="257.44" y="169.62" width="2.65" height="13.0" fill="#c0c0c6"/>
<rect x="260.64" y="169.62" width="2.65" height="13.0" fill="#c0c0c6"/>
<rect x="263.83" y="169.62" width="2.65" height="13.0" fill="#c0c0c6"/>
<rect x="267.03" y="169.62" width="2.65" height="13.0" fill="#c0c0c6"/>
<rect x="270.22" y="169.62" width="2.65" height="13.0" fill="#c0c0c6"/>
<rect x="273.42" y="169.62" width="2.65" height="13.0" fill="#c0c0c6"/>
<rect x="276.62" y="169.62" width="2.65" height="13.0" fill="#c0c0c6"/>
<rect x="279.81" y="169.62" width="2.65" height="13.0" fill="#c0c0c6"/>
<rect x="283.01" y="169.62" width="2.65" height="13.0" fill="#c0c0c6"/>
<rect x="286.2" y="169.62" width="2.65" height="13.0" fill="#c0c0c6"/>
<rect x="289.4" y="169.62" width="2.65" height="13.0" fill="#c0c0c6"/>
<rect x="292.6" y="169.62" width="2.65" height="13.0" fill="#c0c0c6"/>
<rect x="295.79" y="169.62" width="2.65" height="13.0" fill="#c0c0c6"/>
<rect x="298.99" y="169.62" width="2.65" height="13.0" fill="#c0c0c6"/>
<rect x="302.18" y="169.62" width="2.65" height="13.0" fill="#c0c0c6"/>
<rect x="305.38" y="169.62" width="2.65" height="13.0" fill="#c0c0c6"/>
<rect x="308.58" y="169.62" width="2.65" height="13.0" fill="#c0c0c6"/>
<rect x="311.77" y="169.62" width="2.65" height="13.0" fill="#c0c0c6"/>
<rect x="314.97" y="169.62" width="2.65" height="13.0" fill="#c0c0c6"/>
<rect x="318.16" y="169.62" width="2.65" height="13.0" fill="#c0c0c6"/>
<rect x="321.36" y="169.62" width="2.65" height="13.0" fill="#c0c0c6"/>
<rect x="324.56" y="169.62" width="2.65" height="13.0" fill="#c0c0c6"/>
<rect x="327.75" y="169.62" width="2.65" height="13.0" fill="#c0c0c6"/>
<rect x="330.95" y="169.62" width="2.65" height="13.0" fill="#c0c0c6"/>
<rect x="334.14" y="169.62" width="2.65" height="13.0" fill="#c0c0c6"/>
<rect x="337.34" y="169.62" width="2.65" height="13.0" fill="#c0c0c6"/>
<rect x="340.54" y="169.62" width="2.65" height="13.0" fill="#c0c0c6"/>
<rect x="343.73" y="169.62" width="2.65" height="13.0" fill="#c0c0c6"/>
<rect x="346.93" y="169.62" width="2.65" height="13.0" fill="#c0c0c6"/>
<rect x="350.12" y="169.62" width="2.65" height="13.0" fill="#c0c0c6"/>
<rect x="353.32" y="169.62" width="2.65" height="13.0" fill="#c0c0c6"/>
<rect x="356.52" y="169.62" width="2.65" height="13.0" fill="#c0c0c6"/>
<rect x="359.71" y="169.62" width="2.65" height="13.0" fill="#c0c0c6"/>
<rect x="362.91" y="169.62" width="2.65" height="13.0" fill="#c0c0c6"/>
<rect x="366.1" y="169.62" width="2.65" height="13.0" fill="#c0c0c6"/>
<rect x="369.3" y="169.62" width="2.65" height="13.0" fill="#c0c0c6"/>
<rect x="372.5" y="169.62" width="2.65" height="13.0" fill="#c0c0c6"/>
<rect x="375.69" y="169.62" width="2.65" height="13.0" fill="#c0c0c6"/>
<rect x="378.89" y="169.62" width="2.65" height="13.0" fill="#c0c0c6"/>
<rect x="382.08" y="169.62" width="2.65" height="13.0" fill="#c0c0c6"/>
<rect x="385.28" y="169.62" width="2.65" height="13.0" fill="#c0c0c6"/>
<rect x="388.48" y="169.62" width="2.65" height="13.0" fill="#c0c0c6"/>
<text x="34.9" y="180.27" font-size="8.1" fill="#2e2e2e" textLength="10.9" lengthAdjust="spacingAndGlyphs">4%</text>
<text x="393.9" y="179.07" font-size="7.9" fill="#111" font-weight="bold" textLength="23.1" lengthAdjust="spacingAndGlyphs">EP300</text>
<rect x="423.9" y="172.12" width="0.69" height="8.0" fill="#0c4a86"/>
<rect x="49.7" y="183.63" width="2.65" height="13.0" fill="#c0c0c6"/>
<rect x="52.9" y="183.63" width="2.65" height="13.0" fill="#0c4a86"/>
<rect x="56.09" y="183.63" width="2.65" height="13.0" fill="#c0c0c6"/>
<rect x="59.29" y="183.63" width="2.65" height="13.0" fill="#c0c0c6"/>
<rect x="62.48" y="183.63" width="2.65" height="13.0" fill="#c0c0c6"/>
<rect x="65.68" y="183.63" width="2.65" height="13.0" fill="#c0c0c6"/>
<rect x="68.88" y="183.63" width="2.65" height="13.0" fill="#c0c0c6"/>
<rect x="72.07" y="183.63" width="2.65" height="13.0" fill="#c0c0c6"/>
<rect x="75.27" y="183.63" width="2.65" height="13.0" fill="#c0c0c6"/>
<rect x="78.46" y="183.63" width="2.65" height="13.0" fill="#c0c0c6"/>
<rect x="81.66" y="183.63" width="2.65" height="13.0" fill="#c0c0c6"/>
<rect x="84.86" y="183.63" width="2.65" height="13.0" fill="#c0c0c6"/>
<rect x="88.05" y="183.63" width="2.65" height="13.0" fill="#c0c0c6"/>
<rect x="91.25" y="183.63" width="2.65" height="13.0" fill="#c0c0c6"/>
<rect x="94.44" y="183.63" width="2.65" height="13.0" fill="#c0c0c6"/>
<rect x="97.64" y="183.63" width="2.65" height="13.0" fill="#c0c0c6"/>
<rect x="100.84" y="183.63" width="2.65" height="13.0" fill="#c0c0c6"/>
<rect x="104.03" y="183.63" width="2.65" height="13.0" fill="#0c4a86"/>
<rect x="107.23" y="183.63" width="2.65" height="13.0" fill="#c0c0c6"/>
<rect x="110.42" y="183.63" width="2.65" height="13.0" fill="#c0c0c6"/>
<rect x="113.62" y="183.63" width="2.65" height="13.0" fill="#c0c0c6"/>
<rect x="116.82" y="183.63" width="2.65" height="13.0" fill="#c0c0c6"/>
<rect x="120.01" y="183.63" width="2.65" height="13.0" fill="#c0c0c6"/>
<rect x="123.21" y="183.63" width="2.65" height="13.0" fill="#c0c0c6"/>
<rect x="126.4" y="183.63" width="2.65" height="13.0" fill="#c0c0c6"/>
<rect x="129.6" y="183.63" width="2.65" height="13.0" fill="#c0c0c6"/>
<rect x="132.8" y="183.63" width="2.65" height="13.0" fill="#c0c0c6"/>
<rect x="135.99" y="183.63" width="2.65" height="13.0" fill="#0c4a86"/>
<rect x="139.19" y="183.63" width="2.65" height="13.0" fill="#c0c0c6"/>
<rect x="142.38" y="183.63" width="2.65" height="13.0" fill="#c0c0c6"/>
<rect x="145.58" y="183.63" width="2.65" height="13.0" fill="#c0c0c6"/>
<rect x="148.78" y="183.63" width="2.65" height="13.0" fill="#c0c0c6"/>
<rect x="151.97" y="183.63" width="2.65" height="13.0" fill="#c0c0c6"/>
<rect x="155.17" y="183.63" width="2.65" height="13.0" fill="#c0c0c6"/>
<rect x="158.36" y="183.63" width="2.65" height="13.0" fill="#c0c0c6"/>
<rect x="161.56" y="183.63" width="2.65" height="13.0" fill="#c0c0c6"/>
<rect x="164.76" y="183.63" width="2.65" height="13.0" fill="#c0c0c6"/>
<rect x="167.95" y="183.63" width="2.65" height="13.0" fill="#c0c0c6"/>
<rect x="171.15" y="183.63" width="2.65" height="13.0" fill="#c0c0c6"/>
<rect x="174.34" y="183.63" width="2.65" height="13.0" fill="#c0c0c6"/>
<rect x="177.54" y="183.63" width="2.65" height="13.0" fill="#c0c0c6"/>
<rect x="180.74" y="183.63" width="2.65" height="13.0" fill="#c0c0c6"/>
<rect x="183.93" y="183.63" width="2.65" height="13.0" fill="#c0c0c6"/>
<rect x="187.13" y="183.63" width="2.65" height="13.0" fill="#c0c0c6"/>
<rect x="190.32" y="183.63" width="2.65" height="13.0" fill="#c0c0c6"/>
<rect x="193.52" y="183.63" width="2.65" height="13.0" fill="#c0c0c6"/>
<rect x="196.72" y="183.63" width="2.65" height="13.0" fill="#c0c0c6"/>
<rect x="199.91" y="183.63" width="2.65" height="13.0" fill="#c0c0c6"/>
<rect x="203.11" y="183.63" width="2.65" height="13.0" fill="#c0c0c6"/>
<rect x="206.3" y="183.63" width="2.65" height="13.0" fill="#c0c0c6"/>
<rect x="209.5" y="183.63" width="2.65" height="13.0" fill="#c0c0c6"/>
<rect x="212.7" y="183.63" width="2.65" height="13.0" fill="#c0c0c6"/>
<rect x="215.89" y="183.63" width="2.65" height="13.0" fill="#c0c0c6"/>
<rect x="219.09" y="183.63" width="2.65" height="13.0" fill="#c0c0c6"/>
<rect x="222.28" y="183.63" width="2.65" height="13.0" fill="#c0c0c6"/>
<rect x="225.48" y="183.63" width="2.65" height="13.0" fill="#c0c0c6"/>
<rect x="228.68" y="183.63" width="2.65" height="13.0" fill="#c0c0c6"/>
<rect x="231.87" y="183.63" width="2.65" height="13.0" fill="#c0c0c6"/>
<rect x="235.07" y="183.63" width="2.65" height="13.0" fill="#c0c0c6"/>
<rect x="238.26" y="183.63" width="2.65" height="13.0" fill="#c0c0c6"/>
<rect x="241.46" y="183.63" width="2.65" height="13.0" fill="#c0c0c6"/>
<rect x="244.66" y="183.63" width="2.65" height="13.0" fill="#c0c0c6"/>
<rect x="247.85" y="183.63" width="2.65" height="13.0" fill="#c0c0c6"/>
<rect x="251.05" y="183.63" width="2.65" height="13.0" fill="#c0c0c6"/>
<rect x="254.24" y="183.63" width="2.65" height="13.0" fill="#c0c0c6"/>
<rect x="257.44" y="183.63" width="2.65" height="13.0" fill="#c0c0c6"/>
<rect x="260.64" y="183.63" width="2.65" height="13.0" fill="#c0c0c6"/>
<rect x="263.83" y="183.63" width="2.65" height="13.0" fill="#c0c0c6"/>
<rect x="267.03" y="183.63" width="2.65" height="13.0" fill="#c0c0c6"/>
<rect x="270.22" y="183.63" width="2.65" height="13.0" fill="#c0c0c6"/>
<rect x="273.42" y="183.63" width="2.65" height="13.0" fill="#c0c0c6"/>
<rect x="276.62" y="183.63" width="2.65" height="13.0" fill="#c0c0c6"/>
<rect x="279.81" y="183.63" width="2.65" height="13.0" fill="#0c4a86"/>
<rect x="283.01" y="183.63" width="2.65" height="13.0" fill="#c0c0c6"/>
<rect x="286.2" y="183.63" width="2.65" height="13.0" fill="#c0c0c6"/>
<rect x="289.4" y="183.63" width="2.65" height="13.0" fill="#c0c0c6"/>
<rect x="292.6" y="183.63" width="2.65" height="13.0" fill="#c0c0c6"/>
<rect x="295.79" y="183.63" width="2.65" height="13.0" fill="#c0c0c6"/>
<rect x="298.99" y="183.63" width="2.65" height="13.0" fill="#c0c0c6"/>
<rect x="302.18" y="183.63" width="2.65" height="13.0" fill="#c0c0c6"/>
<rect x="305.38" y="183.63" width="2.65" height="13.0" fill="#c0c0c6"/>
<rect x="308.58" y="183.63" width="2.65" height="13.0" fill="#c0c0c6"/>
<rect x="311.77" y="183.63" width="2.65" height="13.0" fill="#c0c0c6"/>
<rect x="314.97" y="183.63" width="2.65" height="13.0" fill="#c0c0c6"/>
<rect x="318.16" y="183.63" width="2.65" height="13.0" fill="#c0c0c6"/>
<rect x="321.36" y="183.63" width="2.65" height="13.0" fill="#c0c0c6"/>
<rect x="324.56" y="183.63" width="2.65" height="13.0" fill="#c0c0c6"/>
<rect x="327.75" y="183.63" width="2.65" height="13.0" fill="#c0c0c6"/>
<rect x="330.95" y="183.63" width="2.65" height="13.0" fill="#c0c0c6"/>
<rect x="334.14" y="183.63" width="2.65" height="13.0" fill="#c0c0c6"/>
<rect x="337.34" y="183.63" width="2.65" height="13.0" fill="#c0c0c6"/>
<rect x="340.54" y="183.63" width="2.65" height="13.0" fill="#c0c0c6"/>
<rect x="343.73" y="183.63" width="2.65" height="13.0" fill="#c0c0c6"/>
<rect x="346.93" y="183.63" width="2.65" height="13.0" fill="#c0c0c6"/>
<rect x="350.12" y="183.63" width="2.65" height="13.0" fill="#c0c0c6"/>
<rect x="353.32" y="183.63" width="2.65" height="13.0" fill="#c0c0c6"/>
<rect x="356.52" y="183.63" width="2.65" height="13.0" fill="#c0c0c6"/>
<rect x="359.71" y="183.63" width="2.65" height="13.0" fill="#c0c0c6"/>
<rect x="362.91" y="183.63" width="2.65" height="13.0" fill="#c0c0c6"/>
<rect x="366.1" y="183.63" width="2.65" height="13.0" fill="#c0c0c6"/>
<rect x="369.3" y="183.63" width="2.65" height="13.0" fill="#c0c0c6"/>
<rect x="372.5" y="183.63" width="2.65" height="13.0" fill="#c0c0c6"/>
<rect x="375.69" y="183.63" width="2.65" height="13.0" fill="#c0c0c6"/>
<rect x="378.89" y="183.63" width="2.65" height="13.0" fill="#c0c0c6"/>
<rect x="382.08" y="183.63" width="2.65" height="13.0" fill="#c0c0c6"/>
<rect x="385.28" y="183.63" width="2.65" height="13.0" fill="#c0c0c6"/>
<rect x="388.48" y="183.63" width="2.65" height="13.0" fill="#c0c0c6"/>
<text x="34.9" y="194.28" font-size="8.1" fill="#2e2e2e" textLength="10.9" lengthAdjust="spacingAndGlyphs">4%</text>
<text x="393.9" y="193.08" font-size="7.9" fill="#111" font-weight="bold" textLength="20.3" lengthAdjust="spacingAndGlyphs">IKZF1</text>
<rect x="423.9" y="186.13" width="0.69" height="8.0" fill="#0c4a86"/>
<rect x="49.7" y="197.64" width="2.65" height="13.0" fill="#c0c0c6"/>
<rect x="52.9" y="197.64" width="2.65" height="13.0" fill="#c0c0c6"/>
<rect x="56.09" y="197.64" width="2.65" height="13.0" fill="#c0c0c6"/>
<rect x="59.29" y="197.64" width="2.65" height="13.0" fill="#c0c0c6"/>
<rect x="62.48" y="197.64" width="2.65" height="13.0" fill="#c0c0c6"/>
<rect x="65.68" y="197.64" width="2.65" height="13.0" fill="#c0c0c6"/>
<rect x="68.88" y="197.64" width="2.65" height="13.0" fill="#c0c0c6"/>
<rect x="72.07" y="197.64" width="2.65" height="13.0" fill="#c0c0c6"/>
<rect x="75.27" y="197.64" width="2.65" height="13.0" fill="#c0c0c6"/>
<rect x="78.46" y="197.64" width="2.65" height="13.0" fill="#c0c0c6"/>
<rect x="81.66" y="197.64" width="2.65" height="13.0" fill="#c0c0c6"/>
<rect x="84.86" y="197.64" width="2.65" height="13.0" fill="#c0c0c6"/>
<rect x="88.05" y="197.64" width="2.65" height="13.0" fill="#c0c0c6"/>
<rect x="91.25" y="197.64" width="2.65" height="13.0" fill="#c0c0c6"/>
<rect x="94.44" y="197.64" width="2.65" height="13.0" fill="#c0c0c6"/>
<rect x="97.64" y="197.64" width="2.65" height="13.0" fill="#c0c0c6"/>
<rect x="100.84" y="197.64" width="2.65" height="13.0" fill="#c0c0c6"/>
<rect x="104.03" y="197.64" width="2.65" height="13.0" fill="#c0c0c6"/>
<rect x="107.23" y="197.64" width="2.65" height="13.0" fill="#0c4a86"/>
<rect x="110.42" y="197.64" width="2.65" height="13.0" fill="#c0c0c6"/>
<rect x="113.62" y="197.64" width="2.65" height="13.0" fill="#c0c0c6"/>
<rect x="116.82" y="197.64" width="2.65" height="13.0" fill="#c0c0c6"/>
<rect x="120.01" y="197.64" width="2.65" height="13.0" fill="#c0c0c6"/>
<rect x="123.21" y="197.64" width="2.65" height="13.0" fill="#c0c0c6"/>
<rect x="126.4" y="197.64" width="2.65" height="13.0" fill="#c0c0c6"/>
<rect x="129.6" y="197.64" width="2.65" height="13.0" fill="#0c4a86"/>
<rect x="132.8" y="197.64" width="2.65" height="13.0" fill="#c0c0c6"/>
<rect x="135.99" y="197.64" width="2.65" height="13.0" fill="#c0c0c6"/>
<rect x="139.19" y="197.64" width="2.65" height="13.0" fill="#c0c0c6"/>
<rect x="142.38" y="197.64" width="2.65" height="13.0" fill="#c0c0c6"/>
<rect x="145.58" y="197.64" width="2.65" height="13.0" fill="#c0c0c6"/>
<rect x="148.78" y="197.64" width="2.65" height="13.0" fill="#c0c0c6"/>
<rect x="151.97" y="197.64" width="2.65" height="13.0" fill="#c0c0c6"/>
<rect x="155.17" y="197.64" width="2.65" height="13.0" fill="#c0c0c6"/>
<rect x="158.36" y="197.64" width="2.65" height="13.0" fill="#c0c0c6"/>
<rect x="161.56" y="197.64" width="2.65" height="13.0" fill="#c0c0c6"/>
<rect x="164.76" y="197.64" width="2.65" height="13.0" fill="#c0c0c6"/>
<rect x="167.95" y="197.64" width="2.65" height="13.0" fill="#c0c0c6"/>
<rect x="171.15" y="197.64" width="2.65" height="13.0" fill="#c0c0c6"/>
<rect x="174.34" y="197.64" width="2.65" height="13.0" fill="#c0c0c6"/>
<rect x="177.54" y="197.64" width="2.65" height="13.0" fill="#c0c0c6"/>
<rect x="180.74" y="197.64" width="2.65" height="13.0" fill="#c0c0c6"/>
<rect x="183.93" y="197.64" width="2.65" height="13.0" fill="#0c4a86"/>
<rect x="187.13" y="197.64" width="2.65" height="13.0" fill="#c0c0c6"/>
<rect x="190.32" y="197.64" width="2.65" height="13.0" fill="#c0c0c6"/>
<rect x="193.52" y="197.64" width="2.65" height="13.0" fill="#c0c0c6"/>
<rect x="196.72" y="197.64" width="2.65" height="13.0" fill="#c0c0c6"/>
<rect x="199.91" y="197.64" width="2.65" height="13.0" fill="#c0c0c6"/>
<rect x="203.11" y="197.64" width="2.65" height="13.0" fill="#c0c0c6"/>
<rect x="206.3" y="197.64" width="2.65" height="13.0" fill="#c0c0c6"/>
<rect x="209.5" y="197.64" width="2.65" height="13.0" fill="#c0c0c6"/>
<rect x="212.7" y="197.64" width="2.65" height="13.0" fill="#c0c0c6"/>
<rect x="215.89" y="197.64" width="2.65" height="13.0" fill="#c0c0c6"/>
<rect x="219.09" y="197.64" width="2.65" height="13.0" fill="#c0c0c6"/>
<rect x="222.28" y="197.64" width="2.65" height="13.0" fill="#c0c0c6"/>
<rect x="225.48" y="197.64" width="2.65" height="13.0" fill="#c0c0c6"/>
<rect x="228.68" y="197.64" width="2.65" height="13.0" fill="#c0c0c6"/>
<rect x="231.87" y="197.64" width="2.65" height="13.0" fill="#c0c0c6"/>
<rect x="235.07" y="197.64" width="2.65" height="13.0" fill="#c0c0c6"/>
<rect x="238.26" y="197.64" width="2.65" height="13.0" fill="#c0c0c6"/>
<rect x="241.46" y="197.64" width="2.65" height="13.0" fill="#c0c0c6"/>
<rect x="244.66" y="197.64" width="2.65" height="13.0" fill="#c0c0c6"/>
<rect x="247.85" y="197.64" width="2.65" height="13.0" fill="#c0c0c6"/>
<rect x="251.05" y="197.64" width="2.65" height="13.0" fill="#c0c0c6"/>
<rect x="254.24" y="197.64" width="2.65" height="13.0" fill="#c0c0c6"/>
<rect x="257.44" y="197.64" width="2.65" height="13.0" fill="#0c4a86"/>
<rect x="260.64" y="197.64" width="2.65" height="13.0" fill="#c0c0c6"/>
<rect x="263.83" y="197.64" width="2.65" height="13.0" fill="#c0c0c6"/>
<rect x="267.03" y="197.64" width="2.65" height="13.0" fill="#c0c0c6"/>
<rect x="270.22" y="197.64" width="2.65" height="13.0" fill="#c0c0c6"/>
<rect x="273.42" y="197.64" width="2.65" height="13.0" fill="#c0c0c6"/>
<rect x="276.62" y="197.64" width="2.65" height="13.0" fill="#c0c0c6"/>
<rect x="279.81" y="197.64" width="2.65" height="13.0" fill="#c0c0c6"/>
<rect x="283.01" y="197.64" width="2.65" height="13.0" fill="#c0c0c6"/>
<rect x="286.2" y="197.64" width="2.65" height="13.0" fill="#c0c0c6"/>
<rect x="289.4" y="197.64" width="2.65" height="13.0" fill="#c0c0c6"/>
<rect x="292.6" y="197.64" width="2.65" height="13.0" fill="#c0c0c6"/>
<rect x="295.79" y="197.64" width="2.65" height="13.0" fill="#c0c0c6"/>
<rect x="298.99" y="197.64" width="2.65" height="13.0" fill="#c0c0c6"/>
<rect x="302.18" y="197.64" width="2.65" height="13.0" fill="#c0c0c6"/>
<rect x="305.38" y="197.64" width="2.65" height="13.0" fill="#c0c0c6"/>
<rect x="308.58" y="197.64" width="2.65" height="13.0" fill="#c0c0c6"/>
<rect x="311.77" y="197.64" width="2.65" height="13.0" fill="#c0c0c6"/>
<rect x="314.97" y="197.64" width="2.65" height="13.0" fill="#c0c0c6"/>
<rect x="318.16" y="197.64" width="2.65" height="13.0" fill="#c0c0c6"/>
<rect x="321.36" y="197.64" width="2.65" height="13.0" fill="#c0c0c6"/>
<rect x="324.56" y="197.64" width="2.65" height="13.0" fill="#c0c0c6"/>
<rect x="327.75" y="197.64" width="2.65" height="13.0" fill="#c0c0c6"/>
<rect x="330.95" y="197.64" width="2.65" height="13.0" fill="#c0c0c6"/>
<rect x="334.14" y="197.64" width="2.65" height="13.0" fill="#c0c0c6"/>
<rect x="337.34" y="197.64" width="2.65" height="13.0" fill="#c0c0c6"/>
<rect x="340.54" y="197.64" width="2.65" height="13.0" fill="#c0c0c6"/>
<rect x="343.73" y="197.64" width="2.65" height="13.0" fill="#c0c0c6"/>
<rect x="346.93" y="197.64" width="2.65" height="13.0" fill="#c0c0c6"/>
<rect x="350.12" y="197.64" width="2.65" height="13.0" fill="#c0c0c6"/>
<rect x="353.32" y="197.64" width="2.65" height="13.0" fill="#c0c0c6"/>
<rect x="356.52" y="197.64" width="2.65" height="13.0" fill="#c0c0c6"/>
<rect x="359.71" y="197.64" width="2.65" height="13.0" fill="#c0c0c6"/>
<rect x="362.91" y="197.64" width="2.65" height="13.0" fill="#c0c0c6"/>
<rect x="366.1" y="197.64" width="2.65" height="13.0" fill="#c0c0c6"/>
<rect x="369.3" y="197.64" width="2.65" height="13.0" fill="#c0c0c6"/>
<rect x="372.5" y="197.64" width="2.65" height="13.0" fill="#c0c0c6"/>
<rect x="375.69" y="197.64" width="2.65" height="13.0" fill="#c0c0c6"/>
<rect x="378.89" y="197.64" width="2.65" height="13.0" fill="#c0c0c6"/>
<rect x="382.08" y="197.64" width="2.65" height="13.0" fill="#c0c0c6"/>
<rect x="385.28" y="197.64" width="2.65" height="13.0" fill="#c0c0c6"/>
<rect x="388.48" y="197.64" width="2.65" height="13.0" fill="#c0c0c6"/>
<text x="34.9" y="208.29" font-size="8.1" fill="#2e2e2e" textLength="10.9" lengthAdjust="spacingAndGlyphs">4%</text>
<text x="393.9" y="207.09" font-size="7.9" fill="#111" font-weight="bold" textLength="17.6" lengthAdjust="spacingAndGlyphs">MYC</text>
<rect x="423.9" y="200.14" width="0.69" height="8.0" fill="#0c4a86"/>
<rect x="49.7" y="211.65" width="2.65" height="13.0" fill="#c0c0c6"/>
<rect x="52.9" y="211.65" width="2.65" height="13.0" fill="#c0c0c6"/>
<rect x="56.09" y="211.65" width="2.65" height="13.0" fill="#c0c0c6"/>
<rect x="59.29" y="211.65" width="2.65" height="13.0" fill="#c0c0c6"/>
<rect x="62.48" y="211.65" width="2.65" height="13.0" fill="#c0c0c6"/>
<rect x="65.68" y="211.65" width="2.65" height="13.0" fill="#c0c0c6"/>
<rect x="68.88" y="211.65" width="2.65" height="13.0" fill="#c0c0c6"/>
<rect x="72.07" y="211.65" width="2.65" height="13.0" fill="#c0c0c6"/>
<rect x="75.27" y="211.65" width="2.65" height="13.0" fill="#c0c0c6"/>
<rect x="78.46" y="211.65" width="2.65" height="13.0" fill="#c0c0c6"/>
<rect x="81.66" y="211.65" width="2.65" height="13.0" fill="#0c4a86"/>
<rect x="84.86" y="211.65" width="2.65" height="13.0" fill="#c0c0c6"/>
<rect x="88.05" y="211.65" width="2.65" height="13.0" fill="#c0c0c6"/>
<rect x="91.25" y="211.65" width="2.65" height="13.0" fill="#c0c0c6"/>
<rect x="94.44" y="211.65" width="2.65" height="13.0" fill="#c0c0c6"/>
<rect x="97.64" y="211.65" width="2.65" height="13.0" fill="#c0c0c6"/>
<rect x="100.84" y="211.65" width="2.65" height="13.0" fill="#c0c0c6"/>
<rect x="104.03" y="211.65" width="2.65" height="13.0" fill="#c0c0c6"/>
<rect x="107.23" y="211.65" width="2.65" height="13.0" fill="#c0c0c6"/>
<rect x="110.42" y="211.65" width="2.65" height="13.0" fill="#c0c0c6"/>
<rect x="113.62" y="211.65" width="2.65" height="13.0" fill="#c0c0c6"/>
<rect x="116.82" y="211.65" width="2.65" height="13.0" fill="#c0c0c6"/>
<rect x="120.01" y="211.65" width="2.65" height="13.0" fill="#c0c0c6"/>
<rect x="123.21" y="211.65" width="2.65" height="13.0" fill="#c0c0c6"/>
<rect x="126.4" y="211.65" width="2.65" height="13.0" fill="#c0c0c6"/>
<rect x="129.6" y="211.65" width="2.65" height="13.0" fill="#c0c0c6"/>
<rect x="132.8" y="211.65" width="2.65" height="13.0" fill="#c0c0c6"/>
<rect x="135.99" y="211.65" width="2.65" height="13.0" fill="#c0c0c6"/>
<rect x="139.19" y="211.65" width="2.65" height="13.0" fill="#c0c0c6"/>
<rect x="142.38" y="211.65" width="2.65" height="13.0" fill="#c0c0c6"/>
<rect x="145.58" y="211.65" width="2.65" height="13.0" fill="#c0c0c6"/>
<rect x="148.78" y="211.65" width="2.65" height="13.0" fill="#c0c0c6"/>
<rect x="151.97" y="211.65" width="2.65" height="13.0" fill="#c0c0c6"/>
<rect x="155.17" y="211.65" width="2.65" height="13.0" fill="#c0c0c6"/>
<rect x="158.36" y="211.65" width="2.65" height="13.0" fill="#c0c0c6"/>
<rect x="161.56" y="211.65" width="2.65" height="13.0" fill="#c0c0c6"/>
<rect x="164.76" y="211.65" width="2.65" height="13.0" fill="#c0c0c6"/>
<rect x="167.95" y="211.65" width="2.65" height="13.0" fill="#c0c0c6"/>
<rect x="171.15" y="211.65" width="2.65" height="13.0" fill="#c0c0c6"/>
<rect x="174.34" y="211.65" width="2.65" height="13.0" fill="#c0c0c6"/>
<rect x="177.54" y="211.65" width="2.65" height="13.0" fill="#c0c0c6"/>
<rect x="180.74" y="211.65" width="2.65" height="13.0" fill="#c0c0c6"/>
<rect x="183.93" y="211.65" width="2.65" height="13.0" fill="#c0c0c6"/>
<rect x="187.13" y="211.65" width="2.65" height="13.0" fill="#c0c0c6"/>
<rect x="190.32" y="211.65" width="2.65" height="13.0" fill="#c0c0c6"/>
<rect x="193.52" y="211.65" width="2.65" height="13.0" fill="#c0c0c6"/>
<rect x="196.72" y="211.65" width="2.65" height="13.0" fill="#c0c0c6"/>
<rect x="199.91" y="211.65" width="2.65" height="13.0" fill="#c0c0c6"/>
<rect x="203.11" y="211.65" width="2.65" height="13.0" fill="#c0c0c6"/>
<rect x="206.3" y="211.65" width="2.65" height="13.0" fill="#c0c0c6"/>
<rect x="209.5" y="211.65" width="2.65" height="13.0" fill="#c0c0c6"/>
<rect x="212.7" y="211.65" width="2.65" height="13.0" fill="#c0c0c6"/>
<rect x="215.89" y="211.65" width="2.65" height="13.0" fill="#c0c0c6"/>
<rect x="219.09" y="211.65" width="2.65" height="13.0" fill="#c0c0c6"/>
<rect x="222.28" y="211.65" width="2.65" height="13.0" fill="#c0c0c6"/>
<rect x="225.48" y="211.65" width="2.65" height="13.0" fill="#c0c0c6"/>
<rect x="228.68" y="211.65" width="2.65" height="13.0" fill="#c0c0c6"/>
<rect x="231.87" y="211.65" width="2.65" height="13.0" fill="#c0c0c6"/>
<rect x="235.07" y="211.65" width="2.65" height="13.0" fill="#c0c0c6"/>
<rect x="238.26" y="211.65" width="2.65" height="13.0" fill="#c0c0c6"/>
<rect x="241.46" y="211.65" width="2.65" height="13.0" fill="#c0c0c6"/>
<rect x="244.66" y="211.65" width="2.65" height="13.0" fill="#c0c0c6"/>
<rect x="247.85" y="211.65" width="2.65" height="13.0" fill="#c0c0c6"/>
<rect x="251.05" y="211.65" width="2.65" height="13.0" fill="#c0c0c6"/>
<rect x="254.24" y="211.65" width="2.65" height="13.0" fill="#c0c0c6"/>
<rect x="257.44" y="211.65" width="2.65" height="13.0" fill="#0c4a86"/>
<rect x="260.64" y="211.65" width="2.65" height="13.0" fill="#c0c0c6"/>
<rect x="263.83" y="211.65" width="2.65" height="13.0" fill="#0c4a86"/>
<rect x="267.03" y="211.65" width="2.65" height="13.0" fill="#c0c0c6"/>
<rect x="270.22" y="211.65" width="2.65" height="13.0" fill="#c0c0c6"/>
<rect x="273.42" y="211.65" width="2.65" height="13.0" fill="#c0c0c6"/>
<rect x="276.62" y="211.65" width="2.65" height="13.0" fill="#c0c0c6"/>
<rect x="279.81" y="211.65" width="2.65" height="13.0" fill="#c0c0c6"/>
<rect x="283.01" y="211.65" width="2.65" height="13.0" fill="#c0c0c6"/>
<rect x="286.2" y="211.65" width="2.65" height="13.0" fill="#c0c0c6"/>
<rect x="289.4" y="211.65" width="2.65" height="13.0" fill="#c0c0c6"/>
<rect x="292.6" y="211.65" width="2.65" height="13.0" fill="#c0c0c6"/>
<rect x="295.79" y="211.65" width="2.65" height="13.0" fill="#c0c0c6"/>
<rect x="298.99" y="211.65" width="2.65" height="13.0" fill="#c0c0c6"/>
<rect x="302.18" y="211.65" width="2.65" height="13.0" fill="#c0c0c6"/>
<rect x="305.38" y="211.65" width="2.65" height="13.0" fill="#c0c0c6"/>
<rect x="308.58" y="211.65" width="2.65" height="13.0" fill="#c0c0c6"/>
<rect x="311.77" y="211.65" width="2.65" height="13.0" fill="#c0c0c6"/>
<rect x="314.97" y="211.65" width="2.65" height="13.0" fill="#c0c0c6"/>
<rect x="318.16" y="211.65" width="2.65" height="13.0" fill="#c0c0c6"/>
<rect x="321.36" y="211.65" width="2.65" height="13.0" fill="#c0c0c6"/>
<rect x="324.56" y="211.65" width="2.65" height="13.0" fill="#c0c0c6"/>
<rect x="327.75" y="211.65" width="2.65" height="13.0" fill="#c0c0c6"/>
<rect x="330.95" y="211.65" width="2.65" height="13.0" fill="#c0c0c6"/>
<rect x="334.14" y="211.65" width="2.65" height="13.0" fill="#c0c0c6"/>
<rect x="337.34" y="211.65" width="2.65" height="13.0" fill="#c0c0c6"/>
<rect x="340.54" y="211.65" width="2.65" height="13.0" fill="#c0c0c6"/>
<rect x="343.73" y="211.65" width="2.65" height="13.0" fill="#c0c0c6"/>
<rect x="346.93" y="211.65" width="2.65" height="13.0" fill="#c0c0c6"/>
<rect x="350.12" y="211.65" width="2.65" height="13.0" fill="#c0c0c6"/>
<rect x="353.32" y="211.65" width="2.65" height="13.0" fill="#c0c0c6"/>
<rect x="356.52" y="211.65" width="2.65" height="13.0" fill="#c0c0c6"/>
<rect x="359.71" y="211.65" width="2.65" height="13.0" fill="#c0c0c6"/>
<rect x="362.91" y="211.65" width="2.65" height="13.0" fill="#c0c0c6"/>
<rect x="366.1" y="211.65" width="2.65" height="13.0" fill="#c0c0c6"/>
<rect x="369.3" y="211.65" width="2.65" height="13.0" fill="#c0c0c6"/>
<rect x="372.5" y="211.65" width="2.65" height="13.0" fill="#c0c0c6"/>
<rect x="375.69" y="211.65" width="2.65" height="13.0" fill="#c0c0c6"/>
<rect x="378.89" y="211.65" width="2.65" height="13.0" fill="#c0c0c6"/>
<rect x="382.08" y="211.65" width="2.65" height="13.0" fill="#c0c0c6"/>
<rect x="385.28" y="211.65" width="2.65" height="13.0" fill="#c0c0c6"/>
<rect x="388.48" y="211.65" width="2.65" height="13.0" fill="#c0c0c6"/>
<text x="34.9" y="222.3" font-size="8.1" fill="#2e2e2e" textLength="10.9" lengthAdjust="spacingAndGlyphs">3%</text>
<text x="393.9" y="221.1" font-size="7.9" fill="#111" font-weight="bold" textLength="22.7" lengthAdjust="spacingAndGlyphs">PTPRJ</text>
<rect x="423.9" y="214.15" width="0.52" height="8.0" fill="#0c4a86"/>
<path d="M417.5 228.6V225.7H435.6V228.6M426.2 225.7V228.6" fill="none" stroke="#111" stroke-width="1.25"/>
<text transform="translate(420 232.2) rotate(-90)" font-size="6.1" fill="#111" stroke="#111" stroke-width="0.12" text-anchor="end">0</text>
<text transform="translate(428.7 232.2) rotate(-90)" font-size="6.1" fill="#111" stroke="#111" stroke-width="0.12" text-anchor="end">50</text>
<text transform="translate(437.2 232.2) rotate(-90)" font-size="6.1" fill="#111" stroke="#111" stroke-width="0.12" text-anchor="end">100</text>
<text x="415" y="249.1" font-size="6.1" fill="#1a1a1a" stroke="#1a1a1a" stroke-width="0.18" textLength="23.8" lengthAdjust="spacingAndGlyphs">Number of</text>
<text x="418.1" y="255.9" font-size="6.1" fill="#1a1a1a" stroke="#1a1a1a" stroke-width="0.18" textLength="17.8" lengthAdjust="spacingAndGlyphs">samples</text>
<text x="449.6" y="90.7" font-size="7.8" fill="#2e2e2e" textLength="33.2" lengthAdjust="spacingAndGlyphs">Karyotype</text>
<rect x="449.45" y="93.7" width="5.9" height="5.7" fill="#8e86cf" stroke="#151515" stroke-width="0.9"/>
<text x="459.3" y="99.5" font-size="7.8" fill="#2e2e2e" textLength="32.8" lengthAdjust="spacingAndGlyphs">Abnormal</text>
<rect x="449.45" y="103.5" width="5.9" height="5.8" fill="#57196f" stroke="#151515" stroke-width="0.9"/>
<text x="459.3" y="109.2" font-size="7.8" fill="#2e2e2e" textLength="24.5" lengthAdjust="spacingAndGlyphs">Normal</text>
<rect x="449.45" y="113.2" width="5.9" height="5.8" fill="#3e4f5e" stroke="#151515" stroke-width="0.9"/>
<text x="459.3" y="119.7" font-size="7.8" fill="#2e2e2e" textLength="30.4" lengthAdjust="spacingAndGlyphs">Unknown</text>
<text x="449.6" y="135.6" font-size="7.8" fill="#2e2e2e" textLength="44" lengthAdjust="spacingAndGlyphs">CEBPA status</text>
<rect x="449.45" y="138.7" width="5.9" height="5.7" fill="#0c4a86" stroke="#151515" stroke-width="0.9"/>
<text x="459.3" y="144.6" font-size="7.8" fill="#2e2e2e" textLength="49" lengthAdjust="spacingAndGlyphs">Double mutant</text>
<rect x="449.45" y="148.8" width="5.9" height="5.7" fill="#35b0e8" stroke="#151515" stroke-width="0.9"/>
<text x="459.3" y="154.8" font-size="7.8" fill="#2e2e2e" textLength="30.2" lengthAdjust="spacingAndGlyphs">bZip only</text>
<text x="449.6" y="171.4" font-size="7.8" fill="#2e2e2e" textLength="51.1" lengthAdjust="spacingAndGlyphs">Mutation status</text>
<rect x="449.45" y="175.3" width="5.9" height="5.7" fill="#0c4a86" stroke="#151515" stroke-width="0.9"/>
<text x="459.3" y="180.9" font-size="7.8" fill="#2e2e2e" textLength="25.4" lengthAdjust="spacingAndGlyphs">Positive</text>
<rect x="449.45" y="185.4" width="5.9" height="5.7" fill="#c0c0c6" stroke="#151515" stroke-width="0.9"/>
<text x="459.3" y="191.1" font-size="7.8" fill="#2e2e2e" textLength="29.5" lengthAdjust="spacingAndGlyphs">Negative</text>
<text x="11.3" y="258.6" font-size="11.5" fill="#000" font-weight="bold" textLength="7" lengthAdjust="spacingAndGlyphs">B</text>
<path d="M47.6 264.98H51.2V404.0" fill="none" stroke="#2a2a2a" stroke-width="1.45"/>
<path d="M47.6 404H51" stroke="#2a2a2a" stroke-width="1.1"/>
<text x="40.8" y="406.9" font-size="8.0" fill="#2e2e2e" textLength="3.9" lengthAdjust="spacingAndGlyphs">0</text>
<path d="M47.6 384.14H51" stroke="#2a2a2a" stroke-width="1.1"/>
<text x="40.8" y="387.04" font-size="8.0" fill="#2e2e2e" textLength="3.9" lengthAdjust="spacingAndGlyphs">5</text>
<path d="M47.6 364.28H51" stroke="#2a2a2a" stroke-width="1.1"/>
<text x="36.8" y="367.18" font-size="8.0" fill="#2e2e2e" textLength="7.9" lengthAdjust="spacingAndGlyphs">10</text>
<path d="M47.6 344.42H51" stroke="#2a2a2a" stroke-width="1.1"/>
<text x="36.8" y="347.32" font-size="8.0" fill="#2e2e2e" textLength="7.9" lengthAdjust="spacingAndGlyphs">15</text>
<path d="M47.6 324.56H51" stroke="#2a2a2a" stroke-width="1.1"/>
<text x="36.8" y="327.46" font-size="8.0" fill="#2e2e2e" textLength="7.9" lengthAdjust="spacingAndGlyphs">20</text>
<path d="M47.6 304.7H51" stroke="#2a2a2a" stroke-width="1.1"/>
<text x="36.8" y="307.6" font-size="8.0" fill="#2e2e2e" textLength="7.9" lengthAdjust="spacingAndGlyphs">25</text>
<path d="M47.6 284.84H51" stroke="#2a2a2a" stroke-width="1.1"/>
<text x="36.8" y="287.74" font-size="8.0" fill="#2e2e2e" textLength="7.9" lengthAdjust="spacingAndGlyphs">30</text>
<text x="36.8" y="267.88" font-size="8.0" fill="#2e2e2e" textLength="7.9" lengthAdjust="spacingAndGlyphs">35</text>
<path d="M50.5 403.95H347.8" stroke="#2a2a2a" stroke-width="1.5"/>
<text transform="translate(29 358.2) rotate(-90)" font-size="7.8" fill="#2e2e2e" textLength="48.2" lengthAdjust="spacingAndGlyphs">Prevalence (%)</text>
<rect x="69.1" y="351.97" width="16.7" height="52.03" fill="#c8102e"/>
<rect x="90.1" y="400.03" width="16.7" height="3.97" fill="#134f83"/>
<text x="76.55" y="413.8" font-size="8.3" fill="#2e2e2e" textLength="23.3" lengthAdjust="spacingAndGlyphs">CSF3R</text>
<rect x="143.4" y="318.6" width="16.7" height="85.4" fill="#c8102e"/>
<rect x="164.4" y="400.03" width="16.7" height="3.97" fill="#134f83"/>
<text x="150.25" y="413.8" font-size="8.3" fill="#2e2e2e" textLength="24.5" lengthAdjust="spacingAndGlyphs">GATA2</text>
<rect x="217.7" y="288.41" width="16.7" height="115.59" fill="#c8102e"/>
<rect x="238.7" y="282.85" width="16.7" height="121.15" fill="#134f83"/>
<text x="226.4" y="413.8" font-size="8.3" fill="#2e2e2e" textLength="20.8" lengthAdjust="spacingAndGlyphs">NRAS</text>
<rect x="292" y="359.51" width="16.7" height="44.49" fill="#c8102e"/>
<rect x="313" y="352.76" width="16.7" height="51.24" fill="#134f83"/>
<text x="295.5" y="413.8" font-size="8.3" fill="#2e2e2e" textLength="31.2" lengthAdjust="spacingAndGlyphs">FLT3-ITD</text>
<path d="M68.2 351.3V349.7Q68.2 347.9 70 347.9H84.75Q86.75 347.9 86.75 343.9Q86.75 347.9 88.75 347.9H103.5Q105.3 347.9 105.3 349.7V351.3" fill="none" stroke="#111" stroke-width="1.1"/>
<path d="M86.5 337.2L86.5 335.35M86.93 337.45L88.54 336.52M86.93 337.95L88.54 338.88M86.5 338.2L86.5 340.05M86.07 337.45L84.46 336.52M86.07 337.95L84.46 338.88" stroke="#5a5a5a" stroke-width="1.15" stroke-linecap="round"/>
<path d="M141.7 318.3V316.8Q141.7 315 143.5 315H158.25Q160.25 315 160.25 311.4Q160.25 315 162.25 315H177Q178.8 315 178.8 316.8V318.3" fill="none" stroke="#111" stroke-width="1.1"/>
<path d="M160.05 304.8L160.05 302.95M160.48 305.05L162.09 304.12M160.48 305.55L162.09 306.48M160.05 305.8L160.05 307.65M159.62 305.05L158.01 304.12M159.62 305.55L158.01 306.48" stroke="#5a5a5a" stroke-width="1.15" stroke-linecap="round"/>
<rect x="140" y="420.7" width="4.5" height="4.6" fill="#c8102e"/>
<text x="146.8" y="425.4" font-size="8.0" fill="#2e2e2e" textLength="49" lengthAdjust="spacingAndGlyphs">CEBPA-mutant</text>
<rect x="214.1" y="421.1" width="4.7" height="4.7" fill="#134f83"/>
<text x="221.4" y="425.6" font-size="8.0" fill="#2e2e2e" textLength="36.3" lengthAdjust="spacingAndGlyphs">CEBPA-WT</text>
<rect x="0" y="0" width="520" height="1.3" fill="#000"/>
<rect x="0" y="0" width="1.3" height="433" fill="#000"/>
<rect x="518.8" y="0" width="1.2" height="433" fill="#000"/>
<rect x="0" y="431.7" width="520" height="1.3" fill="#000"/>
</svg>
</body></html>
